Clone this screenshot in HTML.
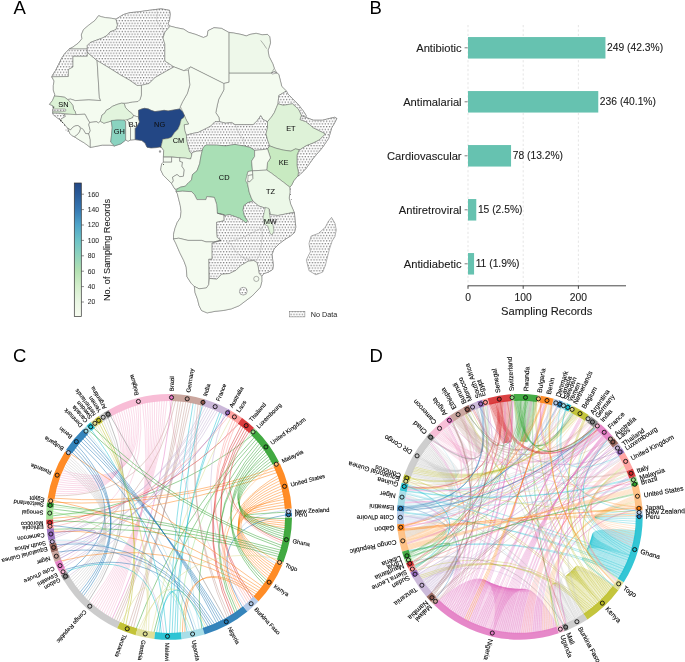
<!DOCTYPE html><html><head><meta charset="utf-8"><style>html,body{margin:0;padding:0;background:#fff}svg{display:block;will-change:transform}</style></head><body>
<svg width="685" height="662" viewBox="0 0 685 662" font-family="'Liberation Sans', sans-serif">
<defs>
<pattern id="dots" patternUnits="userSpaceOnUse" width="2.86" height="5.44"><rect width="2.86" height="5.44" fill="#fff"/><circle cx="0.7" cy="1.56" r="0.62" fill="#555"/><circle cx="2.13" cy="4.28" r="0.62" fill="#555"/></pattern>
<linearGradient id="cbar" x1="0" y1="1" x2="0" y2="0"><stop offset="0" stop-color="#f7fcf0"/><stop offset="0.114" stop-color="#e9f6e3"/><stop offset="0.229" stop-color="#d3eecb"/><stop offset="0.343" stop-color="#b3e1b2"/><stop offset="0.457" stop-color="#8fd3bd"/><stop offset="0.571" stop-color="#6cc3c7"/><stop offset="0.686" stop-color="#4ea4c9"/><stop offset="0.8" stop-color="#3679b3"/><stop offset="0.914" stop-color="#2a5b98"/><stop offset="1" stop-color="#234785"/></linearGradient>
</defs>
<rect width="685" height="662" fill="#fff"/>
<g stroke="#5a5a5a" stroke-width="0.45" stroke-linejoin="round">
<polygon points="98.6,15.7 101.6,16.8 105.4,17.6 111.5,18.3 116,19.1 123.5,14.5 129.6,12.7 138.7,11.8 149,10.3 161.1,8.8 169.5,10.3 170.2,14.1 169.5,20.1 168,23.9 170.2,26.1 176.3,27.7 183.8,29.2 188.3,32.2 195.9,34.5 203.4,37.5 207.2,36 208,30.7 214,27.7 221.6,28.4 228.4,32.2 233.7,33 241,34.4 246.3,35.9 250.1,34.4 256.1,33.3 262.2,34.8 267.5,34.4 269.7,36.6 270.5,42.7 269,47.9 268,50 269,56.3 272.8,63.8 274.3,68.3 277,73 278.8,74.4 280.3,80.4 281.8,86.5 286.4,91 287.9,94 292.4,98.5 298.4,104.6 303,110.6 306,115.2 306,117.5 313.5,120.2 322.6,120.2 331.7,117.9 335,117.2 336.8,118.5 334,124 331.7,127.8 328.7,138.3 322.6,147.4 313.5,158 306,168.5 300,174.6 297.9,176.1 297,176.9 293.9,180.6 291.6,185.2 289.8,187.2 290,192.1 289.2,198.1 290.7,204.2 293,209.5 294.4,212.9 295.1,220.4 295.8,227.2 294.4,232.7 290.3,236.1 284.9,239.5 279.5,243.5 274,249 272,254.4 272.7,259.9 273.3,265.3 272.7,269.4 268.6,272.1 263.8,273.5 261.8,276.2 261.8,281.6 260.4,287.1 256.9,291 252.1,296 245.7,300.8 239.2,305.7 231.2,308.9 223.2,310.5 215.1,311.3 207.1,312.9 201.5,310.5 199.1,305.7 197.5,299.2 195.1,292.8 194.3,286.4 191.1,283.2 187,276.8 186.2,267.1 183.8,260.7 179.8,252.7 175.8,243.4 173.5,238.9 173.5,234.4 175,228.3 177.3,222.3 180.3,217.8 181.1,211.7 180.3,205.7 178.8,199.6 177.3,193.6 176.1,191.7 175.7,189 174.8,189 171.6,183.5 167.1,179 163.4,175.4 160.7,169.9 161.6,164 163.4,162.2 163.4,157.2 163.7,150.4 161,146.8 156.2,147.6 151,147.9 147,147.2 145.1,143.1 141.8,140.5 135.2,139.6 130.5,140 128.1,141.2 125.7,140 121,143.8 114.5,145.9 110,145.1 102.4,145.1 94.8,146.6 90.3,147.4 84.3,142.9 79,139.8 74.5,136.8 72.2,135.8 69.9,133.5 67.7,128.2 63.9,123.7 60.1,119.9 57.5,118 53.3,113.9 52.6,113.1 53.3,108.2 52.6,105.6 49.5,104.4 52.6,100.3 54.4,96.1 54.8,94.6 53.3,90.1 53.3,85.5 54.1,81 51.8,77.2 52.6,75 55.6,70.4 58.6,64.4 61.6,58.3 64.6,53.8 69.2,49 73,47 78.2,43.2 82,38.7 81.3,34.9 83.5,29.6 88.8,25.1 94.8,20.6" fill="#f4fbf0"/>
<polygon points="98.6,15.7 101.6,16.8 105.4,17.6 111.5,18.3 116,19.1 117.5,25.1 116,29.6 110,31.9 106.9,35.7 102.4,38 96.4,40.2 90.3,42.5 87.3,45.5 87.3,49 69.2,49 73,47 78.2,43.2 82,38.7 81.3,34.9 83.5,29.6 88.8,25.1 94.8,20.6" fill="#f4fbf0"/>
<polygon points="69.2,49 87.3,49 87.3,56.3 73,56.3 73,67 68.4,69.5 68.4,76.5 51.8,76.8 52.6,75 55.6,70.4 58.6,64.4 61.6,58.3 64.6,53.8" fill="url(#dots)"/>
<polygon points="51.8,76.8 68.4,76.5 68.4,69.5 73,67 73,56.3 87.3,56.3 87.3,52.3 97.1,60.6 99.4,97.6 100.7,100.6 88.8,99.9 75.2,100.6 70.7,99.1 67.7,99.5 64.6,97.3 60.1,96.5 54.4,96.1 54.8,94.6 53.3,90.1 53.3,85.5 54.1,81" fill="#f4fbf0"/>
<polygon points="116,19.1 123.5,14.5 129.6,12.7 138.7,11.8 149,10.3 161.1,8.8 169.5,10.3 170.2,14.1 169.5,20.1 168,23.9 170.2,26.1 165,32 163,38 164.9,44.3 164.9,60.9 174,66.9 165.7,71.5 155.1,77.5 149.1,83.5 141.4,85.3 137.1,85.5 129.6,80.2 120.5,75 108.4,67.4 97.1,60.6 87.3,52.3 87.3,45.5 90.3,42.5 96.4,40.2 102.4,38 106.9,35.7 110,31.9 116,29.6 117.5,25.1" fill="url(#dots)"/>
<polygon points="170.2,26.1 176.3,27.7 183.8,29.2 188.3,32.2 195.9,34.5 203.4,37.5 207.2,36 208,30.7 214,27.7 221.6,28.4 228.4,32.2 229.1,32.5 229.1,73.2 229.1,82.2 223.8,83.5 190.6,66.9 183.8,70.7 174,66.9 164.9,60.9 164.9,44.3 163,38 165,32" fill="#f4fbf0"/>
<polygon points="229.1,32.5 233.7,33 241,34.4 246.3,35.9 250.1,34.4 256.1,33.3 262.2,34.8 267.5,34.4 269.7,36.6 270.5,42.7 269,47.9 268,50 269,56.3 272.8,63.8 274.3,68.3 271.3,73.2 229.1,73.2" fill="#eef8ea"/>
<polygon points="229.1,73.2 271.3,73.2 274.3,71.5 277,73 278.8,74.4 280.3,80.4 281.8,86.5 286.4,91 278.8,95.5 278,103.8 276.5,107.4 274.3,112.7 271.3,117.2 267.5,121.7 263,119.5 260.7,115.7 257.7,120.2 253.1,124.7 235,124.7 231.7,122.5 225.6,123.2 219.6,121.7 218.8,117.2 215.8,112.7 217.3,105.1 218.8,99.1 223.8,90 223.8,83.5 229.1,82.2" fill="#f4fbf0"/>
<polygon points="271.3,73.2 274.3,71.5 277,73 272.5,74" fill="url(#dots)"/>
<polygon points="190.6,66.9 223.8,83.5 223.8,90 218.8,99.1 217.3,105.1 215.8,112.7 218.8,117.2 219.6,121.7 215,121.7 210.5,126.3 204.5,129.3 198.4,132.3 190.9,133.8 186.4,135.3 184.8,130.8 184.1,124.7 188.6,124 186.4,120.2 184.8,117.2 183.3,112.7 180.3,106.6 182.5,101.9 187.3,93.5 189.8,85 189.1,77.5 188.3,70" fill="#f4fbf0"/>
<polygon points="174,66.9 183.8,70.7 188.3,70 189.1,77.5 189.8,85 187.3,93.5 182.5,101.9 180.3,106.6 179.9,108.9 176,109.6 172,110.3 168.1,110.9 164.1,110.3 160.2,110.9 154.9,111.6 151,110.3 148.4,108.9 144.4,108.3 141.8,108.9 138.5,110.3 138.6,116.8 136.5,116.5 133.5,115.5 131.8,113.3 128.3,110.6 125.2,107.1 124.3,103.6 124.8,103.2 128.3,102.8 132.7,101.9 137.9,101.5 140.1,99.3 141.4,94.9 141.4,85.3 149.1,83.5 155.1,77.5 165.7,71.5" fill="#f4fbf0"/>
<polygon points="97.1,60.6 108.4,67.4 120.5,75 129.6,80.2 137.1,85.5 141.4,85.3 141.4,94.9 140.1,99.3 137.9,101.5 132.7,101.9 128.3,102.8 124.8,103.2 121.3,103.2 116.9,104.5 112.5,106.3 109,108.9 106.4,110.2 104.6,113.3 102,115 101.1,118.5 100.3,121.2 98.5,122.9 96.4,121.7 89.6,122.5 87.3,118.7 85,114.2 76,114.6 75.2,111.6 73.7,109.4 72.9,105.6 71.4,103.3 67.7,99.5 70.7,99.1 75.2,100.6 88.8,99.9 100.7,100.6 99.4,97.6" fill="#f4fbf0"/>
<polygon points="54.4,96.1 60.1,96.5 64.6,97.3 67.7,99.5 71.4,103.3 72.9,105.6 73.7,109.4 75.2,111.6 76,114.6 69.9,114.3 60.1,113.1 52.6,113.1 53.3,108.2 52.6,105.6 49.5,104.4 52.6,100.3" fill="#dcf2d6"/>
<polygon points="52.8,109 65.4,109 66,110 65.4,111.3 52.8,111.2" fill="url(#dots)"/>
<polygon points="52.6,113.1 60.1,113.4 64.5,114.2 65.4,116.5 62.5,118.2 60.1,119.9 57.5,118 53.3,115" fill="url(#dots)"/>
<polygon points="64.5,114.2 69.9,114.3 76,114.6 85,114.2 87.3,118.7 89.6,122.5 88.8,124.7 90.3,130.8 88.8,133.8 85.5,133.5 83.5,130 81.5,128 79.5,126.5 77.5,125.5 75,126 72.5,127.5 70.5,130 67.7,128.2 63.9,123.7 60.1,119.9 62.5,118.2 65.4,116.5" fill="#f4fbf0"/>
<polygon points="67.7,128.2 70.5,130 72.5,127.5 75,126 77.5,125.5 79.5,126.5 80.5,129 79.5,132 77.5,134.5 74.5,136.8 72.2,135.8 69.9,133.5" fill="#f4fbf0"/>
<polygon points="79.5,132 80.5,129 81.5,128 83.5,130 85.5,133.5 88.8,133.8 90.3,139.8 90.3,147.4 84.3,142.9 79,139.8 74.5,136.8 77.5,134.5" fill="#f4fbf0"/>
<polygon points="89.6,122.5 96.4,121.7 98.5,122.9 100.3,121.2 103.9,123.2 111.5,121 112.2,127.8 111.5,135.3 110.7,142.1 114.5,145.9 110,145.1 102.4,145.1 94.8,146.6 90.3,147.4 90.3,139.8 88.8,133.8 90.3,130.8 88.8,124.7" fill="#f4fbf0"/>
<polygon points="121.3,103.2 124.3,103.6 125.2,107.1 128.3,110.6 131.8,113.3 133.5,115.5 132.7,117.7 128.3,119.4 125.6,121.2 123.5,120.5 120.5,120.2 116,120.2 111.5,121 103.9,123.2 100.3,121.2 101.1,118.5 102,115 104.6,113.3 106.4,110.2 109,108.9 112.5,106.3 116.9,104.5" fill="#e2f4dd"/>
<polygon points="111.2,120.5 118,120 123.8,120.1 125.7,121.5 125.7,132 125.7,140 121,143.8 114.5,145.9 110.7,142.1 111.5,135.3 112.2,127.8" fill="#8ad3c0"/>
<polygon points="123.8,120.1 127,119.8 128.5,121.5 129.5,126 130.5,127.2 130.5,140 128.1,141.2 125.7,140 125.7,132 125.7,121.5" fill="#f4fbf0"/>
<polygon points="127,119.8 128.3,119.4 132.7,117.7 133.5,115.5 136.5,116.5 138.6,116.8 138.5,118 139.5,122 137,126.5 135.2,128.5 135.2,139.6 130.5,140 130.5,127.2 129.5,126 128.5,121.5" fill="#f4fbf0"/>
<polygon points="138.5,110.3 141.8,108.9 144.4,108.3 148.4,108.9 151,110.3 154.9,111.6 160.2,110.9 164.1,110.3 168.1,110.9 172,110.3 176,109.6 179.9,108.9 182.5,111.6 184.5,115.5 183.8,117.5 181.2,119.5 179.9,124.7 177.9,129.3 174.6,132.6 171.4,137.2 168.1,138.5 162.8,139.2 161.8,143.5 161,146.8 156.2,147.6 151,147.9 147,147.2 145.1,143.1 141.8,140.5 135.2,139.6 135.2,128.5 137,126.5 139.5,122 138.5,118 138.6,116.8" fill="#234785"/>
<polygon points="184.5,115.5 186.4,120.2 188.6,124 184.1,124.7 184.8,130.8 186.4,135.3 187,141 189.7,151.8 191.5,153.6 191.5,156.3 190.6,159 185.2,158.1 178.9,157.7 171.6,156.8 163.4,156.8 163.7,150.4 161,146.8 161.8,143.5 162.8,139.2 168.1,138.5 171.4,137.2 174.6,132.6 177.9,129.3 179.9,124.7 181.2,119.5 183.8,117.5" fill="#d9f0d3"/>
<polygon points="186.4,135.3 190.9,133.8 198.4,132.3 204.5,129.3 210.5,126.3 215,121.7 219.6,121.7 225.6,123.2 231.7,122.5 235,124.7 253.1,124.7 257.7,120.2 260.7,115.7 263,119.5 267.5,121.7 267.5,127.8 266,133.8 267.5,139.8 269.7,145.9 267.5,148.9 262.2,149.7 254.6,150.4 250.1,147.4 244.1,145.9 238,145.1 235,144.4 225.6,145.9 216.6,145.1 206,145 203.3,147.3 202.4,150 200.6,150.9 196.1,151.3 192,152.7 191.5,153.6 189.7,151.8 187,141" fill="url(#dots)"/>
<polygon points="163.4,157.2 171.6,157.2 171.6,162.2 163.4,162.2" fill="#f4fbf0"/>
<polygon points="163.4,162.2 171.6,162.2 171.6,157.2 179.8,157.7 179.8,161.3 182.5,162.2 182,166.3 184.3,169.9 183.4,176.3 179.8,176.7 177,174.5 172.5,177.2 173.4,180.8 171.6,183.5 167.1,179 163.4,175.4 160.7,169.9 161.6,164" fill="#f4fbf0"/>
<polygon points="179.8,157.7 185.2,158.1 190.6,159 191.5,156.3 192,152.7 196.1,151.3 200.6,150.9 202.4,150 201.5,153.6 200.6,158.1 199.7,163.6 197,170.8 192.5,174.5 191.5,179.9 187.9,183.5 185.2,186.2 180.7,187.1 177,189 174.8,189 171.6,183.5 173.4,180.8 172.5,177.2 177,174.5 179.8,176.7 183.4,176.3 184.3,169.9 182,166.3 182.5,162.2 179.8,161.3" fill="#f4fbf0"/>
<polygon points="202.4,150 203.3,147.3 206,145 216.6,145.1 225.6,145.9 235,144.4 238,145.1 244.1,145.9 250.1,147.4 254.6,150.4 254.6,156.5 251.6,161 252.5,170.8 248,171.5 247.1,174.6 245.6,180.6 247.7,184.5 249.2,192.1 251.4,198.1 253,201.1 247.7,202.7 243.9,205.7 243.1,210.2 244.6,216.3 247.7,220.8 246.1,223 240.1,218.5 234.1,216.3 229.5,214.7 225,215.5 217.3,213.2 216.6,204.2 214.3,197.4 206.8,196.6 206,199.6 196.9,199.6 194.3,194.4 191.5,191.7 182.5,191.2 176.1,191.7 177,189 180.7,187.1 185.2,186.2 187.9,183.5 191.5,179.9 192.5,174.5 197,170.8 199.7,163.6 200.6,158.1 201.5,153.6" fill="#a9dfb5"/>
<polygon points="286.4,91 287.9,94 292.4,98.5 298.4,104.6 303,110.6 306,115.2 306,117.5 301.5,115.7 298.4,109.1 292.4,103.8 283.3,105.3 278,103.8 278.8,95.5" fill="url(#dots)"/>
<polygon points="278,103.8 283.3,105.3 292.4,103.8 298.4,109.1 301.5,115.7 300,119.5 306,121.7 313.5,127.8 322.6,132.3 325.6,133.8 319.6,139.8 313.5,142.9 306,145.9 300,149.7 299.2,149.7 295.4,148.9 290.9,151.2 283.3,150.1 275.8,148.2 269.7,145.9 267.5,139.8 266,133.8 267.5,127.8 267.5,121.7 271.3,117.2 274.3,112.7 276.5,107.4" fill="#def2d8"/>
<polygon points="301.5,115.7 306,117.5 313.5,120.2 322.6,120.2 331.7,117.9 335,117.2 336.8,118.5 334,124 331.7,127.8 328.7,138.3 322.6,147.4 313.5,158 306,168.5 300,174.6 297.9,176.1 298.4,172.3 297,165.5 297,155 299.2,149.7 300,149.7 306,145.9 313.5,142.9 319.6,139.8 325.6,133.8 322.6,132.3 313.5,127.8 306,121.7 300,119.5" fill="url(#dots)"/>
<polygon points="267.5,148.9 269.7,145.9 275.8,148.2 283.3,150.1 290.9,151.2 295.4,148.9 299.2,149.7 297,155 297,165.5 298.4,172.3 297.9,176.1 297,176.9 293.9,180.6 291.6,185.2 289.8,187.2 283.3,182.1 277.3,177.6 271.3,173.1 266.7,170.1 267.5,162.5 270.5,158 269,153.4" fill="#c8eac1"/>
<polygon points="254.6,150.4 262.2,149.7 267.5,148.9 269,153.4 270.5,158 267.5,162.5 266.7,170.1 252.5,170.8 251.6,161 254.6,156.5" fill="#f4fbf0"/>
<polygon points="248,171.5 252.5,170.8 252.8,174.8 248.2,175.5 247.1,174.6" fill="#f4fbf0"/>
<polygon points="248.2,175.5 252.8,174.8 253,178.5 249.5,182 247.7,181" fill="#f4fbf0"/>
<polygon points="252.5,170.8 266.7,170.1 271.3,173.1 277.3,177.6 283.3,182.1 289.8,187.2 290,192.1 289.2,198.1 290.7,204.2 293,209.5 294.4,212.9 293,212.5 285.4,214 277.9,215.5 270.3,214.7 269.3,209.5 265.2,208.2 258.2,205.7 253,201.1 251.4,198.1 249.2,192.1 247.7,184.5 247.7,181 249.5,182 253,178.5 252.8,174.8" fill="#ecf8e8"/>
<polygon points="176.1,191.7 182.5,191.2 191.5,191.7 194.3,194.4 196.9,199.6 206,199.6 206.8,196.6 214.3,197.4 216.6,204.2 217.3,213.2 224.1,214.7 224.1,220.8 216.6,222.3 216.6,229.8 217.3,237.4 221.1,240.4 213.5,241.9 206,241.9 201.5,240.4 187.9,240.4 178.8,238.2 173.5,238.9 173.5,234.4 175,228.3 177.3,222.3 180.3,217.8 181.1,211.7 180.3,205.7 178.8,199.6 177.3,193.6" fill="#f4fbf0"/>
<polygon points="217.3,213.2 225,215.5 229.5,214.7 234.1,216.3 240.1,218.5 246.1,223 247.7,220.8 244.6,216.3 243.1,210.2 243.9,205.7 247.7,202.7 253,201.1 258.2,205.7 265.2,208.2 269.3,209.5 270.3,214.7 277.9,215.5 285.4,214 293,212.5 294.4,212.9 295.1,220.4 295.8,227.2 294.4,232.7 290.3,236.1 284.9,239.5 279.5,243.5 274,249 272,254.4 272.7,259.9 273.3,265.3 272.7,269.4 268.6,272.1 263.8,273.5 261.8,276.2 259,273.5 258.4,268 257,262.6 253.6,260.5 248.2,261.2 240.8,265.5 236,270.3 229.6,273.5 221.6,274.3 216.8,279.2 209.5,278.4 208.7,259.1 211.9,259.1 211.9,243 221.1,240.4 217.3,237.4 216.6,229.8 216.6,222.3 224.1,220.8 224.1,214.7" fill="url(#dots)"/>
<polygon points="265.4,207.3 269,208.5 269.7,215.7 270.9,221.1 273.3,226 273.9,231.4 272.1,235 270.3,233.8 269,230.2 267.8,226 264.2,224.2 263,218.1 264.2,212.1" fill="#e2f4dd"/>
<polygon points="173.5,238.9 178.8,238.2 187.9,240.4 201.5,240.4 206,241.9 213.5,241.9 221.1,240.4 211.9,243 211.9,259.1 208.7,259.1 208.7,284.8 206.3,288 199.1,288.8 194.3,286.4 191.1,283.2 187,276.8 186.2,267.1 183.8,260.7 179.8,252.7 175.8,243.4" fill="#f4fbf0"/>
<polygon points="194.3,286.4 199.1,288.8 206.3,288 208.7,284.8 209.5,278.4 216.8,279.2 221.6,274.3 229.6,273.5 236,270.3 240.8,265.5 248.2,261.2 253.6,260.5 257,262.6 258.4,268 259,273.5 261.8,276.2 261.8,281.6 260.4,287.1 256.9,291 252.1,296 245.7,300.8 239.2,305.7 231.2,308.9 223.2,310.5 215.1,311.3 207.1,312.9 201.5,310.5 199.1,305.7 197.5,299.2 195.1,292.8" fill="#f4fbf0"/>
<polygon points="331.5,217.4 334.9,223.1 336.3,229.9 334.9,236.7 332.2,240.8 329.5,249 327.4,257.1 325.4,265.3 322.7,272.1 315.9,274.8 309,270.7 306.3,259.9 310.4,251.7 309,243.5 311.1,236.1 318.6,233.3 325.4,227.2 328.1,221.8" fill="url(#dots)"/>
<circle cx="243.3" cy="291.2" r="3.9" fill="url(#dots)"/>
<circle cx="256.3" cy="278.9" r="2.6" fill="#f4fbf0"/>
</g>
<polyline points="260.7,40.4 263.5,44 266.7,48.7" fill="none" stroke="#5a5a5a" stroke-width="0.45"/>
<g fill="none" stroke="#9a9a9a" stroke-width="0.35">
<polyline points="228.7,241.5 235,240 242.4,237.6 252.2,232.7 262.1,227.8 264.5,224"/>
<polyline points="226,242 230.6,243.5 235.5,251.3 242.4,257.2 247,260.5"/>
<polyline points="262.1,227.8 262.1,237.6 261.1,247.4 259.1,256.3 256.2,260.2"/>
<polyline points="242.4,257.2 249,259 256.2,260.2"/>
<polyline points="156.6,9.5 157.5,14 156.5,19 158,23 162,27 163.5,32 163,38"/>
<polyline points="235,124.7 237,129 240,135 244,140 244.1,145.9"/>
<polyline points="301.5,115.7 303.5,118.5 306,117.5"/>
</g>
<g fill="#222">
<circle cx="53.7" cy="107.1" r="0.7"/>
<circle cx="60.9" cy="120.7" r="0.7"/>
<circle cx="62.5" cy="122.5" r="0.5"/>
<circle cx="64.5" cy="125" r="0.5"/>
<circle cx="68" cy="131" r="0.5"/>
<circle cx="66" cy="130" r="0.4"/>
<circle cx="160.8" cy="147" r="0.5"/>
<circle cx="163.5" cy="164.5" r="0.5"/>
<circle cx="290.3" cy="189" r="0.45"/>
<circle cx="290.6" cy="194.5" r="0.45"/>
<circle cx="291.2" cy="199.5" r="0.4"/>
</g>
<ellipse cx="160" cy="151.5" rx="1.1" ry="1.2" fill="#999"/>
<g font-size="7.4" fill="#111" stroke="#111" stroke-width="0.06" text-anchor="middle">
<text x="63.5" y="106.8">SN</text>
<text x="119.4" y="134.4">GH</text>
<text x="133.1" y="126.6">BJ</text>
<text x="159.6" y="127.3">NG</text>
<text x="178.5" y="142.5">CM</text>
<text x="224.2" y="179.8">CD</text>
<text x="290.9" y="131.3">ET</text>
<text x="283.6" y="165.3">KE</text>
<text x="270.6" y="194.3">TZ</text>
<text x="270.2" y="223.8">MW</text>
</g>
<rect x="74.3" y="183" width="7" height="133.6" fill="url(#cbar)" stroke="#333" stroke-width="0.7"/>
<g stroke="#444" stroke-width="0.6">
<line x1="81.3" y1="302" x2="84" y2="302"/>
<line x1="81.3" y1="286.6" x2="84" y2="286.6"/>
<line x1="81.3" y1="271.2" x2="84" y2="271.2"/>
<line x1="81.3" y1="255.8" x2="84" y2="255.8"/>
<line x1="81.3" y1="240.4" x2="84" y2="240.4"/>
<line x1="81.3" y1="225" x2="84" y2="225"/>
<line x1="81.3" y1="209.6" x2="84" y2="209.6"/>
<line x1="81.3" y1="194.2" x2="84" y2="194.2"/>
</g>
<g font-size="6.7" fill="#333" stroke="#333" stroke-width="0.08">
<text x="87.8" y="304.4">20</text>
<text x="87.8" y="289">40</text>
<text x="87.8" y="273.6">60</text>
<text x="87.8" y="258.2">80</text>
<text x="87.8" y="242.8">100</text>
<text x="87.8" y="227.4">120</text>
<text x="87.8" y="212">140</text>
<text x="87.8" y="196.6">160</text>
</g>
<text transform="translate(110.4,250) rotate(-90)" font-size="9.2" fill="#222" stroke="#222" stroke-width="0.08" text-anchor="middle">No. of Sampling Records</text>
<rect x="289.5" y="311.3" width="15.4" height="5.6" fill="url(#dots)" stroke="#777" stroke-width="0.5"/>
<text x="310.8" y="316.6" font-size="7.2" fill="#222">No Data</text>
<g font-size="18.5" fill="#000">
<text x="13.4" y="13.7">A</text><text x="369.6" y="13.7">B</text><text x="12.9" y="361.6">C</text><text x="369.4" y="361.6">D</text>
</g>
<g stroke="#d4d4d4" stroke-width="0.6" stroke-dasharray="2.2,2.2">
<line x1="468" y1="25" x2="468" y2="285.5"/>
<line x1="523.2" y1="25" x2="523.2" y2="285.5"/>
<line x1="578.4" y1="25" x2="578.4" y2="285.5"/>
</g>
<rect x="468.0" y="37.05" width="137.45" height="21.5" fill="#66c2b0"/>
<text x="607.05" y="51.4" font-size="10.3" fill="#1a1a1a" stroke="#1a1a1a" stroke-width="0.1">249 (42.3%)</text>
<text x="461.6" y="51.8" font-size="11.2" fill="#1a1a1a" stroke="#1a1a1a" stroke-width="0.1" text-anchor="end">Antibiotic</text>
<line x1="464.6" y1="47.8" x2="467.6" y2="47.8" stroke="#444" stroke-width="0.7"/>
<rect x="468.0" y="91.05" width="130.27" height="21.5" fill="#66c2b0"/>
<text x="599.87" y="105.4" font-size="10.3" fill="#1a1a1a" stroke="#1a1a1a" stroke-width="0.1">236 (40.1%)</text>
<text x="461.6" y="105.8" font-size="11.2" fill="#1a1a1a" stroke="#1a1a1a" stroke-width="0.1" text-anchor="end">Antimalarial</text>
<line x1="464.6" y1="101.8" x2="467.6" y2="101.8" stroke="#444" stroke-width="0.7"/>
<rect x="468.0" y="145.05" width="43.06" height="21.5" fill="#66c2b0"/>
<text x="512.66" y="159.4" font-size="10.3" fill="#1a1a1a" stroke="#1a1a1a" stroke-width="0.1">78 (13.2%)</text>
<text x="461.6" y="159.8" font-size="11.2" fill="#1a1a1a" stroke="#1a1a1a" stroke-width="0.1" text-anchor="end">Cardiovascular</text>
<line x1="464.6" y1="155.8" x2="467.6" y2="155.8" stroke="#444" stroke-width="0.7"/>
<rect x="468.0" y="199.05" width="8.28" height="21.5" fill="#66c2b0"/>
<text x="477.88" y="213.4" font-size="10.3" fill="#1a1a1a" stroke="#1a1a1a" stroke-width="0.1">15 (2.5%)</text>
<text x="461.6" y="213.8" font-size="11.2" fill="#1a1a1a" stroke="#1a1a1a" stroke-width="0.1" text-anchor="end">Antiretroviral</text>
<line x1="464.6" y1="209.8" x2="467.6" y2="209.8" stroke="#444" stroke-width="0.7"/>
<rect x="468.0" y="253.05" width="6.07" height="21.5" fill="#66c2b0"/>
<text x="475.67" y="267.4" font-size="10.3" fill="#1a1a1a" stroke="#1a1a1a" stroke-width="0.1">11 (1.9%)</text>
<text x="461.6" y="267.8" font-size="11.2" fill="#1a1a1a" stroke="#1a1a1a" stroke-width="0.1" text-anchor="end">Antidiabetic</text>
<line x1="464.6" y1="263.8" x2="467.6" y2="263.8" stroke="#444" stroke-width="0.7"/>
<line x1="467.7" y1="285.8" x2="626" y2="285.8" stroke="#333" stroke-width="0.9"/>
<line x1="468" y1="285.8" x2="468" y2="288.8" stroke="#333" stroke-width="0.9"/>
<text x="468" y="301" font-size="10.3" fill="#1a1a1a" stroke="#1a1a1a" stroke-width="0.1" text-anchor="middle">0</text>
<line x1="523.2" y1="285.8" x2="523.2" y2="288.8" stroke="#333" stroke-width="0.9"/>
<text x="523.2" y="301" font-size="10.3" fill="#1a1a1a" stroke="#1a1a1a" stroke-width="0.1" text-anchor="middle">100</text>
<line x1="578.4" y1="285.8" x2="578.4" y2="288.8" stroke="#333" stroke-width="0.9"/>
<text x="578.4" y="301" font-size="10.3" fill="#1a1a1a" stroke="#1a1a1a" stroke-width="0.1" text-anchor="middle">200</text>
<text x="546.7" y="315.2" font-size="11.2" fill="#1a1a1a" stroke="#1a1a1a" stroke-width="0.1" text-anchor="middle">Sampling Records</text>
<g fill="none" stroke-width="0.6" stroke-opacity="0.8">
<path d="M112.33,414.03Q145.03,499.2 53.98,493.37" stroke="#f7b6d2"/>
<path d="M114.51,412.85Q145.41,498.71 54.49,491.01" stroke="#f7b6d2"/>
<path d="M116.73,411.72Q145.8,498.22 55.05,488.65" stroke="#f7b6d2"/>
<path d="M118.96,410.63Q146.2,497.74 55.65,486.31" stroke="#f7b6d2"/>
<path d="M121.22,409.6Q146.61,497.27 56.31,483.98" stroke="#f7b6d2"/>
<path d="M123.5,408.61Q147.02,496.81 57.01,481.66" stroke="#f7b6d2"/>
<path d="M125.8,407.67Q147.45,496.35 57.76,479.36" stroke="#f7b6d2"/>
<path d="M128.12,406.78Q147.89,495.91 58.55,477.08" stroke="#f7b6d2"/>
<path d="M130.46,405.93Q148.33,495.47 59.4,474.81" stroke="#f7b6d2"/>
<path d="M132.82,405.14Q148.79,495.05 60.29,472.56" stroke="#f7b6d2"/>
<path d="M135.19,404.4Q149.25,494.63 61.22,470.33" stroke="#f7b6d2"/>
<path d="M142.39,402.48Q157.03,515.07 109.61,618.23" stroke="#f7b6d2"/>
<path d="M144.82,401.94Q157.08,514.81 107.5,616.96" stroke="#f7b6d2"/>
<path d="M147.26,401.45Q157.13,514.56 105.41,615.64" stroke="#f7b6d2"/>
<path d="M149.7,401.01Q157.18,514.31 103.35,614.28" stroke="#f7b6d2"/>
<path d="M152.16,400.63Q157.24,514.06 101.32,612.88" stroke="#f7b6d2"/>
<path d="M154.62,400.3Q157.3,513.81 99.32,611.43" stroke="#f7b6d2"/>
<path d="M157.09,400.02Q157.37,513.56 97.35,609.95" stroke="#f7b6d2"/>
<path d="M159.57,399.79Q157.45,513.32 95.41,608.42" stroke="#f7b6d2"/>
<path d="M162.05,399.61Q157.53,513.07 93.5,606.85" stroke="#f7b6d2"/>
<path d="M164.53,399.49Q157.61,512.83 91.63,605.24" stroke="#f7b6d2"/>
<path d="M167.01,399.42Q157.7,512.59 89.79,603.6" stroke="#f7b6d2"/>
<path d="M137.58,403.71Q148.43,503.56 52.97,534.77" stroke="#f7b6d2"/>
<path d="M169.5,399.4Q179.77,513.02 244.93,606.66" stroke="#f7b6d2"/>
<path d="M139.98,403.07Q149.91,507.47 61.18,563.38" stroke="#f7b6d2"/>
<path d="M285.26,499.22Q201.8,514.99 286.53,520.96" stroke="#ff7f0e"/>
<path d="M285.65,501.99Q201.84,515.7 286.43,523.26" stroke="#ff7f0e"/>
<path d="M285.97,504.77Q201.87,516.41 286.28,525.55" stroke="#ff7f0e"/>
<path d="M286.23,507.55Q201.88,517.12 286.09,527.84" stroke="#ff7f0e"/>
<path d="M279.82,477.56Q199.53,518.29 275.77,566.17" stroke="#ff7f0e"/>
<path d="M280.72,480.2Q199.51,518.97 274.72,568.38" stroke="#ff7f0e"/>
<path d="M281.56,482.87Q199.48,519.65 273.63,570.57" stroke="#ff7f0e"/>
<path d="M282.34,485.56Q199.43,520.33 272.48,572.74" stroke="#ff7f0e"/>
<path d="M283.06,488.26Q199.36,521.01 271.3,574.88" stroke="#ff7f0e"/>
<path d="M283.71,490.98Q199.28,521.68 270.07,577" stroke="#ff7f0e"/>
<path d="M284.29,493.71Q199.18,522.36 268.79,579.09" stroke="#ff7f0e"/>
<path d="M284.81,496.46Q200.52,520.28 277.81,561.49" stroke="#ff7f0e"/>
<path d="M275.58,467.21Q167.77,507.32 53.11,498.13" stroke="#ff7f0e"/>
<path d="M276.73,469.76Q167.85,508.25 52.52,502.22" stroke="#ff7f0e"/>
<path d="M277.82,472.33Q167.87,510.87 51.61,518.38" stroke="#ff7f0e"/>
<path d="M278.85,474.93Q194.57,524.01 241.26,609.63" stroke="#ff7f0e"/>
<path d="M268.11,453.63Q199.31,509.89 285.85,530.13" stroke="#2ca02c"/>
<path d="M269.53,455.9Q199.47,510.53 285.57,532.41" stroke="#2ca02c"/>
<path d="M270.89,458.21Q199.61,511.17 285.25,534.69" stroke="#2ca02c"/>
<path d="M272.2,460.54Q199.74,511.82 284.88,536.96" stroke="#2ca02c"/>
<path d="M273.46,462.91Q199.86,512.47 284.46,539.22" stroke="#2ca02c"/>
<path d="M263.55,447Q196.1,516.11 267.48,581.15" stroke="#2ca02c"/>
<path d="M265.12,449.18Q196.12,516.7 266.12,583.19" stroke="#2ca02c"/>
<path d="M266.64,451.38Q196.14,517.29 264.71,585.2" stroke="#2ca02c"/>
<path d="M260.26,442.77Q191.44,519.9 237.52,612.43" stroke="#2ca02c"/>
<path d="M261.93,444.87Q191.41,520.38 235.6,613.77" stroke="#2ca02c"/>
<path d="M256.79,438.69Q179.22,522.26 153.69,633.39" stroke="#2ca02c"/>
<path d="M254.98,436.71Q176.46,521.45 135.81,629.59" stroke="#2ca02c"/>
<path d="M258.55,440.71Q186.21,522.03 201.87,629.74" stroke="#2ca02c"/>
<path d="M253.13,434.77Q164.41,505.28 51.6,516" stroke="#2ca02c"/>
<path d="M185.94,400.61Q166.44,516.28 133.24,628.79" stroke="#c49c94"/>
<path d="M188.42,401Q166.43,516.22 130.68,627.94" stroke="#c49c94"/>
<path d="M190.89,401.44Q166.42,516.15 128.14,627.03" stroke="#c49c94"/>
<path d="M178.45,399.77Q163.3,515.34 118.33,622.86" stroke="#c49c94"/>
<path d="M180.95,400Q163.34,515.22 116.11,621.77" stroke="#c49c94"/>
<path d="M183.45,400.28Q163.38,515.1 113.92,620.64" stroke="#c49c94"/>
<path d="M198.25,403.07Q181.67,515.06 229.7,617.56" stroke="#c49c94"/>
<path d="M200.67,403.72Q181.72,515.31 227.69,618.75" stroke="#c49c94"/>
<path d="M193.35,401.93Q172.54,517.25 169.39,634.4" stroke="#17becf"/>
<path d="M195.81,402.48Q177.09,516.77 199.48,630.41" stroke="#9edae5"/>
<path d="M173.43,399.48Q153.53,497.5 53.52,495.75" stroke="#c49c94"/>
<path d="M175.94,399.6Q154.26,505.08 56.28,549.75" stroke="#c49c94"/>
<path d="M204.23,404.77Q157.85,504.21 53.59,538.41" stroke="#c5b0d5"/>
<path d="M206.55,405.53Q158.13,504.07 53.26,536.6" stroke="#c5b0d5"/>
<path d="M208.85,406.33Q159.19,506.99 58.53,556.65" stroke="#c5b0d5"/>
<path d="M211.14,407.18Q159.4,506.79 57.75,554.43" stroke="#c5b0d5"/>
<path d="M213.41,408.08Q160.48,508.8 63.22,567.85" stroke="#c5b0d5"/>
<path d="M215.66,409.02Q160.65,508.62 62.18,565.63" stroke="#c5b0d5"/>
<path d="M220.1,411.05Q177.38,518.49 177.26,634.12" stroke="#17becf"/>
<path d="M222.29,412.13Q177.32,518.66 174.64,634.27" stroke="#17becf"/>
<path d="M224.45,413.25Q187.72,514.73 246.77,605.07" stroke="#c5b0d5"/>
<path d="M217.89,410.01Q161.76,510.3 67.91,576.62" stroke="#c5b0d5"/>
<path d="M241.68,424.5Q188.3,517.71 233.66,615.07" stroke="#d62728"/>
<path d="M243.65,426.08Q188.3,518.11 231.7,616.34" stroke="#d62728"/>
<path d="M245.59,427.71Q191.66,515.82 253.78,598.36" stroke="#d62728"/>
<path d="M247.49,429.37Q191.69,516.29 252.08,600.09" stroke="#d62728"/>
<path d="M239.68,422.96Q162.55,504.62 51.76,523.1" stroke="#d62728"/>
<path d="M249.36,431.08Q196.42,508.33 284,541.47" stroke="#d62728"/>
<path d="M233.35,418.52Q189.47,515.01 250.34,601.79" stroke="#ff9896"/>
<path d="M235.5,419.96Q189.52,515.45 248.57,603.45" stroke="#ff9896"/>
<path d="M231.17,417.13Q175.27,519.19 151.11,633.01" stroke="#dbdb8d"/>
<path d="M228.97,415.79Q161.1,504.21 52.07,527.35" stroke="#ff9896"/>
<path d="M237.62,421.44Q194.71,507.29 283.5,543.72" stroke="#ff9896"/>
<path d="M286.58,514.81Q195.91,529.39 243.09,608.18" stroke="#1f77b4"/>
<path d="M286.4,510.01Q200.6,522.52 276.78,563.94" stroke="#aec7e8"/>
<path d="M286.5,512.14Q201.98,516.48 286.59,518.66" stroke="#2ca02c"/>
<path d="M274.53,465.02Q193.7,522.82 239.4,611.05" stroke="#ffbb78"/>
<path d="M251.24,432.88Q182.11,521.52 179.87,633.91" stroke="#98df8a"/>
<path d="M226.69,414.48Q161.8,508.44 59.35,558.86" stroke="#9467bd"/>
<path d="M202.47,404.24Q174.18,517.57 172.01,634.36" stroke="#17becf"/>
<path d="M171.46,399.42Q161.4,514.81 111.75,619.46" stroke="#e377c2"/>
<path d="M110.08,415.3Q168.76,517.09 225.65,619.9" stroke="#7f7f7f"/>
<path d="M107.79,416.66Q149.16,514.77 87.99,601.91" stroke="#7f7f7f"/>
<path d="M103.18,419.63Q148.27,514.94 86.22,600.19" stroke="#c7c7c7"/>
<path d="M105.49,418.11Q148.35,514.48 84.49,598.43" stroke="#c7c7c7"/>
<path d="M98.92,422.66Q153.19,518.99 125.63,626.06" stroke="#bcbd22"/>
<path d="M100.99,421.15Q153.13,518.63 123.14,625.04" stroke="#bcbd22"/>
<path d="M95,425.71Q155.85,520.33 148.54,632.59" stroke="#dbdb8d"/>
<path d="M96.92,424.18Q155.76,520.05 145.98,632.1" stroke="#dbdb8d"/>
<path d="M93.02,427.35Q174.39,508.43 282.95,545.95" stroke="#2ca02c"/>
<path d="M91.01,429.1Q157.84,521.06 166.76,634.38" stroke="#17becf"/>
<path d="M87.77,432.09Q161.63,521 197.07,631.02" stroke="#9edae5"/>
<path d="M89.27,430.69Q173.78,509.21 282.36,548.17" stroke="#2ca02c"/>
<path d="M70.17,453.51Q168.43,517.86 263.27,587.17" stroke="#ff7f0e"/>
<path d="M52.28,504.31Q168.51,519.82 281.73,550.38" stroke="#2ca02c"/>
<path d="M52.06,506.56Q136.27,514.99 51.65,513.62" stroke="#98df8a"/>
<path d="M62.21,468.12Q141.37,520.45 77.94,591.04" stroke="#c7c7c7"/>
<path d="M63.23,465.93Q141.3,519.87 76.41,589.11" stroke="#c7c7c7"/>
<path d="M64.3,463.76Q141.24,519.29 74.91,587.15" stroke="#c7c7c7"/>
<path d="M65.42,461.61Q141.19,518.71 73.46,585.15" stroke="#c7c7c7"/>
<path d="M66.58,459.49Q141.16,518.13 72.04,583.13" stroke="#c7c7c7"/>
<path d="M67.79,457.39Q141.14,517.55 70.67,581.08" stroke="#c7c7c7"/>
<path d="M69.03,455.31Q141.13,516.97 69.35,578.99" stroke="#c7c7c7"/>
<path d="M73.09,449.17Q143.58,518.58 82.79,596.63" stroke="#1f77b4"/>
<path d="M74.77,446.84Q143.58,518 81.14,594.8" stroke="#1f77b4"/>
<path d="M76.51,444.56Q143.6,517.42 79.52,592.94" stroke="#1f77b4"/>
<path d="M80.15,440.12Q164.28,520.73 223.59,621" stroke="#1f77b4"/>
<path d="M82.06,437.97Q164.25,520.57 221.51,622.06" stroke="#1f77b4"/>
<path d="M84.01,435.87Q164.23,520.42 219.41,623.09" stroke="#1f77b4"/>
<path d="M86.01,433.81Q164.21,520.27 217.28,624.07" stroke="#1f77b4"/>
<path d="M78.3,442.32Q159.97,522.51 194.65,631.59" stroke="#1f77b4"/>
<path d="M71.46,451.54Q141.05,515.74 66.38,573.95" stroke="#1f77b4"/>
<path d="M52.25,529.28Q168.21,524.24 279.57,556.93" stroke="#2ca02c"/>
<path d="M52.46,531.12Q165.53,529.27 260.26,591.04" stroke="#ff7f0e"/>
<path d="M60.23,561.11Q166.4,533.73 258.69,592.92" stroke="#ff7f0e"/>
<path d="M257.09,594.77Q183.63,544.1 184.88,633.34" stroke="#ff7f0e"/>
<path d="M255.45,596.59Q183.05,544.4 182.41,633.64" stroke="#ff7f0e"/>
<path d="M52.78,500.29Q165.79,524.69 261.78,589.12" stroke="#ff7f0e"/>
<path d="M51.87,508.87Q168.36,520.77 281.05,552.58" stroke="#2ca02c"/>
<path d="M51.74,511.24Q155.91,532.24 192.22,632.1" stroke="#98df8a"/>
<path d="M51.66,520.74Q168.23,522.74 280.33,554.76" stroke="#2ca02c"/>
<path d="M51.9,525.3Q159.14,533.21 215.14,625" stroke="#1f77b4"/>
<path d="M53.95,540.28Q155.87,536.37 189.78,632.57" stroke="#9edae5"/>
<path d="M54.35,542.18Q152.34,536.87 164.14,634.3" stroke="#c5b0d5"/>
<path d="M55.55,547.11Q136.91,523.38 52.7,532.95" stroke="#9467bd"/>
<path d="M54.88,544.46Q159.25,536.02 212.98,625.9" stroke="#1f77b4"/>
<path d="M57.02,552.18Q159.25,537.22 210.81,626.75" stroke="#1f77b4"/>
<path d="M64.22,569.88Q159.95,539.81 208.61,627.56" stroke="#1f77b4"/>
<path d="M65.16,571.7Q153.49,540.99 161.52,634.16" stroke="#17becf"/>
<path d="M120.67,623.95Q158.72,547.94 143.43,631.56" stroke="#dbdb8d"/>
<path d="M140.89,630.96Q170.37,548.47 206.4,628.32" stroke="#dbdb8d"/>
<path d="M138.36,630.31Q180.15,538.68 278.77,559.08" stroke="#dbdb8d"/>
<path d="M158.9,633.96Q170.22,549.54 187.33,632.98" stroke="#17becf"/>
<path d="M156.29,633.7Q172.22,548.95 204.18,629.04" stroke="#17becf"/>
</g>
<path d="M292,516.39A122.9,122.9 0 0 0 291.94,513.04L285.04,513.26A116.0,116.0 0 0 1 285.1,516.41Z" fill="#1f77b4" fill-opacity="0.9" stroke="none"/>
<path d="M291.94,513.04A122.9,122.9 0 0 0 291.72,508.58L284.83,509.05A116.0,116.0 0 0 1 285.04,513.26Z" fill="#aec7e8" fill-opacity="0.9" stroke="none"/>
<path d="M291.72,508.58A122.9,122.9 0 0 0 279.84,463.6L273.62,466.6A116.0,116.0 0 0 1 284.83,509.05Z" fill="#ff7f0e" fill-opacity="0.9" stroke="none"/>
<path d="M279.84,463.6A122.9,122.9 0 0 0 278.9,461.68L272.73,464.78A116.0,116.0 0 0 1 273.62,466.6Z" fill="#ffbb78" fill-opacity="0.9" stroke="none"/>
<path d="M278.9,461.68A122.9,122.9 0 0 0 256,430L251.12,434.88A116.0,116.0 0 0 1 272.73,464.78Z" fill="#2ca02c" fill-opacity="0.9" stroke="none"/>
<path d="M256,430A122.9,122.9 0 0 0 254.01,428.05L249.24,433.04A116.0,116.0 0 0 1 251.12,434.88Z" fill="#98df8a" fill-opacity="0.9" stroke="none"/>
<path d="M254.01,428.05A122.9,122.9 0 0 0 241.86,417.85L237.77,423.41A116.0,116.0 0 0 1 249.24,433.04Z" fill="#d62728" fill-opacity="0.9" stroke="none"/>
<path d="M241.86,417.85A122.9,122.9 0 0 0 230.55,410.47L227.1,416.44A116.0,116.0 0 0 1 237.77,423.41Z" fill="#ff9896" fill-opacity="0.9" stroke="none"/>
<path d="M230.55,410.47A122.9,122.9 0 0 0 228.12,409.1L224.81,415.15A116.0,116.0 0 0 1 227.1,416.44Z" fill="#9467bd" fill-opacity="0.9" stroke="none"/>
<path d="M228.12,409.1A122.9,122.9 0 0 0 204.62,399.25L202.63,405.85A116.0,116.0 0 0 1 224.81,415.15Z" fill="#c5b0d5" fill-opacity="0.9" stroke="none"/>
<path d="M204.62,399.25A122.9,122.9 0 0 0 203.39,398.88L201.46,405.51A116.0,116.0 0 0 1 202.63,405.85Z" fill="#8c564b" fill-opacity="0.9" stroke="none"/>
<path d="M203.39,398.88A122.9,122.9 0 0 0 172.32,394.04L172.14,400.94A116.0,116.0 0 0 1 201.46,405.51Z" fill="#c49c94" fill-opacity="0.9" stroke="none"/>
<path d="M172.32,394.04A122.9,122.9 0 0 0 170.82,394.01L170.72,400.91A116.0,116.0 0 0 1 172.14,400.94Z" fill="#e377c2" fill-opacity="0.9" stroke="none"/>
<path d="M170.82,394.01A122.9,122.9 0 0 0 108.58,409.93L111.98,415.94A116.0,116.0 0 0 1 170.72,400.91Z" fill="#f7b6d2" fill-opacity="0.9" stroke="none"/>
<path d="M108.58,409.93A122.9,122.9 0 0 0 103.79,412.79L107.46,418.63A116.0,116.0 0 0 1 111.98,415.94Z" fill="#7f7f7f" fill-opacity="0.9" stroke="none"/>
<path d="M103.79,412.79A122.9,122.9 0 0 0 98.96,415.98L102.9,421.65A116.0,116.0 0 0 1 107.46,418.63Z" fill="#c7c7c7" fill-opacity="0.9" stroke="none"/>
<path d="M98.96,415.98A122.9,122.9 0 0 0 94.62,419.14L98.81,424.63A116.0,116.0 0 0 1 102.9,421.65Z" fill="#bcbd22" fill-opacity="0.9" stroke="none"/>
<path d="M94.62,419.14A122.9,122.9 0 0 0 90.6,422.34L95,427.65A116.0,116.0 0 0 1 98.81,424.63Z" fill="#dbdb8d" fill-opacity="0.9" stroke="none"/>
<path d="M90.6,422.34A122.9,122.9 0 0 0 86.39,426L91.03,431.1A116.0,116.0 0 0 1 95,427.65Z" fill="#17becf" fill-opacity="0.9" stroke="none"/>
<path d="M86.39,426A122.9,122.9 0 0 0 83.26,428.94L88.08,433.88A116.0,116.0 0 0 1 91.03,431.1Z" fill="#9edae5" fill-opacity="0.9" stroke="none"/>
<path d="M83.26,428.94A122.9,122.9 0 0 0 66.14,449.78L71.92,453.55A116.0,116.0 0 0 1 88.08,433.88Z" fill="#1f77b4" fill-opacity="0.9" stroke="none"/>
<path d="M66.14,449.78A122.9,122.9 0 0 0 65.1,451.41L70.94,455.09A116.0,116.0 0 0 1 71.92,453.55Z" fill="#aec7e8" fill-opacity="0.9" stroke="none"/>
<path d="M65.1,451.41A122.9,122.9 0 0 0 47.58,498.52L54.4,499.55A116.0,116.0 0 0 1 70.94,455.09Z" fill="#ff7f0e" fill-opacity="0.9" stroke="none"/>
<path d="M47.58,498.52A122.9,122.9 0 0 0 47.04,502.56L53.89,503.37A116.0,116.0 0 0 1 54.4,499.55Z" fill="#ffbb78" fill-opacity="0.9" stroke="none"/>
<path d="M47.04,502.56A122.9,122.9 0 0 0 46.58,507.26L53.46,507.8A116.0,116.0 0 0 1 53.89,503.37Z" fill="#2ca02c" fill-opacity="0.9" stroke="none"/>
<path d="M46.58,507.26A122.9,122.9 0 0 0 46.23,519.69L53.13,519.53A116.0,116.0 0 0 1 53.46,507.8Z" fill="#98df8a" fill-opacity="0.9" stroke="none"/>
<path d="M46.23,519.69A122.9,122.9 0 0 0 46.44,524.62L53.33,524.18A116.0,116.0 0 0 1 53.13,519.53Z" fill="#d62728" fill-opacity="0.9" stroke="none"/>
<path d="M46.44,524.62A122.9,122.9 0 0 0 46.79,528.89L53.65,528.22A116.0,116.0 0 0 1 53.33,524.18Z" fill="#ff9896" fill-opacity="0.9" stroke="none"/>
<path d="M46.79,528.89A122.9,122.9 0 0 0 48.46,540.35L55.23,539.03A116.0,116.0 0 0 1 53.65,528.22Z" fill="#9467bd" fill-opacity="0.9" stroke="none"/>
<path d="M48.46,540.35A122.9,122.9 0 0 0 49.3,544.34L56.03,542.8A116.0,116.0 0 0 1 55.23,539.03Z" fill="#c5b0d5" fill-opacity="0.9" stroke="none"/>
<path d="M49.3,544.34A122.9,122.9 0 0 0 51.51,552.63L58.11,550.62A116.0,116.0 0 0 1 56.03,542.8Z" fill="#8c564b" fill-opacity="0.9" stroke="none"/>
<path d="M51.51,552.63A122.9,122.9 0 0 0 54.75,561.94L61.17,559.41A116.0,116.0 0 0 1 58.11,550.62Z" fill="#c49c94" fill-opacity="0.9" stroke="none"/>
<path d="M54.75,561.94A122.9,122.9 0 0 0 58.92,571.35L65.11,568.3A116.0,116.0 0 0 1 61.17,559.41Z" fill="#e377c2" fill-opacity="0.9" stroke="none"/>
<path d="M58.92,571.35A122.9,122.9 0 0 0 60.89,575.17L66.96,571.89A116.0,116.0 0 0 1 65.11,568.3Z" fill="#f7b6d2" fill-opacity="0.9" stroke="none"/>
<path d="M60.89,575.17A122.9,122.9 0 0 0 64.09,580.75L69.98,577.16A116.0,116.0 0 0 1 66.96,571.89Z" fill="#7f7f7f" fill-opacity="0.9" stroke="none"/>
<path d="M64.09,580.75A122.9,122.9 0 0 0 117.16,628.29L120.08,622.03A116.0,116.0 0 0 1 69.98,577.16Z" fill="#c7c7c7" fill-opacity="0.9" stroke="none"/>
<path d="M117.16,628.29A122.9,122.9 0 0 0 135.64,635.16L137.52,628.52A116.0,116.0 0 0 1 120.08,622.03Z" fill="#bcbd22" fill-opacity="0.9" stroke="none"/>
<path d="M135.64,635.16A122.9,122.9 0 0 0 154.34,638.91L155.16,632.06A116.0,116.0 0 0 1 137.52,628.52Z" fill="#dbdb8d" fill-opacity="0.9" stroke="none"/>
<path d="M154.34,638.91A122.9,122.9 0 0 0 181.73,639.15L181.02,632.29A116.0,116.0 0 0 1 155.16,632.06Z" fill="#17becf" fill-opacity="0.9" stroke="none"/>
<path d="M181.73,639.15A122.9,122.9 0 0 0 204.62,634.55L202.63,627.95A116.0,116.0 0 0 1 181.02,632.29Z" fill="#9edae5" fill-opacity="0.9" stroke="none"/>
<path d="M204.62,634.55A122.9,122.9 0 0 0 247.44,611.6L243.04,606.28A116.0,116.0 0 0 1 202.63,627.95Z" fill="#1f77b4" fill-opacity="0.9" stroke="none"/>
<path d="M247.44,611.6A122.9,122.9 0 0 0 258.54,601.19L253.52,596.45A116.0,116.0 0 0 1 243.04,606.28Z" fill="#aec7e8" fill-opacity="0.9" stroke="none"/>
<path d="M258.54,601.19A122.9,122.9 0 0 0 282.23,564.92L275.88,562.22A116.0,116.0 0 0 1 253.52,596.45Z" fill="#ff7f0e" fill-opacity="0.9" stroke="none"/>
<path d="M282.23,564.92A122.9,122.9 0 0 0 283.37,562.14L276.95,559.6A116.0,116.0 0 0 1 275.88,562.22Z" fill="#ffbb78" fill-opacity="0.9" stroke="none"/>
<path d="M283.37,562.14A122.9,122.9 0 0 0 292,517.54L285.1,517.51A116.0,116.0 0 0 1 276.95,559.6Z" fill="#2ca02c" fill-opacity="0.9" stroke="none"/>
<g stroke="#111" stroke-width="0.9">
<circle cx="288.53" cy="514.69" r="2.05" fill="#1f77b4"/>
<circle cx="288.43" cy="511.59" r="2.05" fill="#aec7e8"/>
<circle cx="284.58" cy="486.35" r="2.05" fill="#ff7f0e"/>
<circle cx="276.3" cy="464.2" r="2.05" fill="#ffbb78"/>
<circle cx="265.92" cy="446.94" r="2.05" fill="#2ca02c"/>
<circle cx="253.02" cy="431.89" r="2.05" fill="#98df8a"/>
<circle cx="246.15" cy="425.62" r="2.05" fill="#d62728"/>
<circle cx="234.4" cy="416.88" r="2.05" fill="#ff9896"/>
<circle cx="227.61" cy="412.76" r="2.05" fill="#9467bd"/>
<circle cx="215.16" cy="406.69" r="2.05" fill="#c5b0d5"/>
<circle cx="202.99" cy="402.36" r="2.05" fill="#8c564b"/>
<circle cx="187.21" cy="398.83" r="2.05" fill="#c49c94"/>
<circle cx="171.5" cy="397.47" r="2.05" fill="#e377c2"/>
<circle cx="138.41" cy="401.46" r="2.05" fill="#f7b6d2"/>
<circle cx="108.08" cy="414.21" r="2.05" fill="#7f7f7f"/>
<circle cx="103.19" cy="417.28" r="2.05" fill="#c7c7c7"/>
<circle cx="98.65" cy="420.43" r="2.05" fill="#bcbd22"/>
<circle cx="94.87" cy="423.31" r="2.05" fill="#dbdb8d"/>
<circle cx="90.72" cy="426.76" r="2.05" fill="#17becf"/>
<circle cx="85.99" cy="431.11" r="2.05" fill="#9edae5"/>
<circle cx="76.35" cy="441.63" r="2.05" fill="#1f77b4"/>
<circle cx="68.39" cy="452.67" r="2.05" fill="#aec7e8"/>
<circle cx="57.19" cy="475.15" r="2.05" fill="#ff7f0e"/>
<circle cx="50.72" cy="500.94" r="2.05" fill="#ffbb78"/>
<circle cx="50.2" cy="505.41" r="2.05" fill="#2ca02c"/>
<circle cx="49.71" cy="513.11" r="2.05" fill="#98df8a"/>
<circle cx="49.79" cy="522.69" r="2.05" fill="#d62728"/>
<circle cx="50.02" cy="526.27" r="2.05" fill="#ff9896"/>
<circle cx="50.89" cy="534.04" r="2.05" fill="#9467bd"/>
<circle cx="52.25" cy="541.67" r="2.05" fill="#c5b0d5"/>
<circle cx="53.63" cy="547.49" r="2.05" fill="#8c564b"/>
<circle cx="56.3" cy="556.2" r="2.05" fill="#c49c94"/>
<circle cx="60.04" cy="565.64" r="2.05" fill="#e377c2"/>
<circle cx="63.01" cy="571.8" r="2.05" fill="#f7b6d2"/>
<circle cx="65.48" cy="576.32" r="2.05" fill="#7f7f7f"/>
<circle cx="89.79" cy="606.22" r="2.05" fill="#c7c7c7"/>
<circle cx="127.23" cy="628.77" r="2.05" fill="#bcbd22"/>
<circle cx="145.18" cy="633.93" r="2.05" fill="#dbdb8d"/>
<circle cx="167.49" cy="636.34" r="2.05" fill="#17becf"/>
<circle cx="192.59" cy="634.02" r="2.05" fill="#9edae5"/>
<circle cx="226.28" cy="621.78" r="2.05" fill="#1f77b4"/>
<circle cx="251.13" cy="603.73" r="2.05" fill="#aec7e8"/>
<circle cx="269.13" cy="582.18" r="2.05" fill="#ff7f0e"/>
<circle cx="279.58" cy="562.32" r="2.05" fill="#ffbb78"/>
<circle cx="286.36" cy="539.65" r="2.05" fill="#2ca02c"/>
</g>
<g font-size="5.9" fill="#000" stroke="#000" stroke-width="0.1">
<text transform="translate(294.88,514.57) rotate(-1.06)" dy="0.35em">Peru</text>
<text transform="translate(294.78,511.3) rotate(-2.55)" dy="0.35em">New Zealand</text>
<text transform="translate(290.72,484.72) rotate(-14.82)" dy="0.35em">United States</text>
<text transform="translate(281.99,461.4) rotate(-26.18)" dy="0.35em">Malaysia</text>
<text transform="translate(271.07,443.22) rotate(-35.85)" dy="0.35em">United Kingdom</text>
<text transform="translate(257.48,427.37) rotate(-45.37)" dy="0.35em">Luxembourg</text>
<text transform="translate(250.25,420.77) rotate(-49.83)" dy="0.35em">Thailand</text>
<text transform="translate(237.87,411.56) rotate(-56.86)" dy="0.35em">Laos</text>
<text transform="translate(230.72,407.23) rotate(-60.67)" dy="0.35em">Australia</text>
<text transform="translate(217.61,400.83) rotate(-67.32)" dy="0.35em">France</text>
<text transform="translate(204.79,396.27) rotate(-73.52)" dy="0.35em">India</text>
<text transform="translate(188.17,392.55) rotate(-81.28)" dy="0.35em">Germany</text>
<text transform="translate(171.62,391.13) rotate(-88.85)" dy="0.35em">Brazil</text>
<text transform="translate(136.77,395.32) rotate(-104.89)" dy="0.35em">Belgium</text>
<text transform="translate(104.84,408.75) rotate(-120.72)" dy="0.35em">Argentina</text>
<text transform="translate(99.68,411.99) rotate(-123.49)" dy="0.35em">Yemen</text>
<text transform="translate(94.91,415.31) rotate(-126.14)" dy="0.35em">Netherlands</text>
<text transform="translate(90.93,418.34) rotate(-128.42)" dy="0.35em">Sweden</text>
<text transform="translate(86.55,421.97) rotate(-131.01)" dy="0.35em">Canada</text>
<text transform="translate(81.57,426.54) rotate(-134.09)" dy="0.35em">Denmark</text>
<text transform="translate(71.42,437.63) rotate(-140.94)" dy="0.35em">Benin</text>
<text transform="translate(63.04,449.25) rotate(-147.47)" dy="0.35em">Bulgaria</text>
<text transform="translate(51.24,472.93) rotate(-159.54)" dy="0.35em">Rwanda</text>
<text transform="translate(44.43,500.09) rotate(-172.32)" dy="0.35em">Egypt</text>
<text transform="translate(43.88,504.8) rotate(-174.48)" dy="0.35em">Switzerland</text>
<text transform="translate(43.36,512.9) rotate(-178.18)" dy="0.35em">Senegal</text>
<text transform="translate(43.45,523) rotate(-182.78)" dy="0.35em">Morocco</text>
<text transform="translate(43.69,526.77) rotate(-184.5)" dy="0.35em">Ethiopia</text>
<text transform="translate(44.6,534.95) rotate(-188.25)" dy="0.35em">Cameroon</text>
<text transform="translate(46.04,542.99) rotate(-191.97)" dy="0.35em">South Africa</text>
<text transform="translate(47.5,549.12) rotate(-194.84)" dy="0.35em">Equatorial Guinea</text>
<text transform="translate(50.3,558.29) rotate(-199.21)" dy="0.35em">Niger</text>
<text transform="translate(54.25,568.23) rotate(-204.08)" dy="0.35em">Cote d'Ivoire</text>
<text transform="translate(57.37,574.72) rotate(-207.36)" dy="0.35em">Eswatini</text>
<text transform="translate(59.97,579.48) rotate(-209.83)" dy="0.35em">Gabon</text>
<text transform="translate(85.58,610.97) rotate(-228.4)" dy="0.35em">Congo Republic</text>
<text transform="translate(125,634.72) rotate(-249.48)" dy="0.35em">Tanzania</text>
<text transform="translate(143.91,640.15) rotate(-258.45)" dy="0.35em">Gambia</text>
<text transform="translate(167.41,642.69) rotate(-269.23)" dy="0.35em">Malawi</text>
<text transform="translate(193.84,640.24) rotate(-281.34)" dy="0.35em">Uganda</text>
<text transform="translate(229.32,627.35) rotate(-298.6)" dy="0.35em">Nigeria</text>
<text transform="translate(255.49,608.35) rotate(-313.37)" dy="0.35em">Burkina Faso</text>
<text transform="translate(274.45,585.65) rotate(-326.87)" dy="0.35em">Kenya</text>
<text transform="translate(285.45,564.74) rotate(-337.65)" dy="0.35em">Togo</text>
<text transform="translate(292.6,540.86) rotate(-349.02)" dy="0.35em">Ghana</text>
</g>
<g fill="none" stroke-width="0.7" stroke-opacity="0.45">
<path d="M438.03,601.18Q504.7,544.65 493.74,631.37" stroke="#e377c2"/>
<path d="M438.81,601.93Q504.96,544.79 494.8,631.61" stroke="#e377c2"/>
<path d="M439.61,602.68Q505.22,544.93 495.86,631.84" stroke="#e377c2"/>
<path d="M440.4,603.42Q505.48,545.06 496.93,632.05" stroke="#e377c2"/>
<path d="M441.21,604.15Q505.74,545.19 498,632.26" stroke="#e377c2"/>
<path d="M442.02,604.87Q506.01,545.32 499.07,632.46" stroke="#e377c2"/>
<path d="M442.84,605.59Q506.27,545.45 500.14,632.64" stroke="#e377c2"/>
<path d="M443.66,606.3Q506.54,545.57 501.21,632.82" stroke="#e377c2"/>
<path d="M444.5,607Q506.81,545.69 502.28,632.99" stroke="#e377c2"/>
<path d="M445.33,607.69Q507.07,545.81 503.36,633.14" stroke="#e377c2"/>
<path d="M446.18,608.38Q507.34,545.93 504.44,633.29" stroke="#e377c2"/>
<path d="M447.03,609.05Q507.61,546.04 505.52,633.43" stroke="#e377c2"/>
<path d="M447.89,609.72Q507.88,546.15 506.6,633.56" stroke="#e377c2"/>
<path d="M448.75,610.38Q508.16,546.26 507.68,633.67" stroke="#e377c2"/>
<path d="M449.62,611.04Q508.43,546.37 508.76,633.78" stroke="#e377c2"/>
<path d="M450.49,611.68Q508.7,546.47 509.84,633.88" stroke="#e377c2"/>
<path d="M451.37,612.32Q508.98,546.58 510.93,633.96" stroke="#e377c2"/>
<path d="M452.26,612.95Q509.25,546.67 512.01,634.04" stroke="#e377c2"/>
<path d="M453.15,613.57Q509.53,546.77 513.1,634.11" stroke="#e377c2"/>
<path d="M454.05,614.18Q509.81,546.86 514.18,634.17" stroke="#e377c2"/>
<path d="M454.96,614.79Q510.09,546.96 515.27,634.21" stroke="#e377c2"/>
<path d="M455.87,615.38Q510.37,547.04 516.36,634.25" stroke="#e377c2"/>
<path d="M456.78,615.97Q510.65,547.13 517.44,634.28" stroke="#e377c2"/>
<path d="M457.7,616.55Q510.93,547.21 518.53,634.29" stroke="#e377c2"/>
<path d="M458.63,617.12Q511.21,547.29 519.62,634.3" stroke="#e377c2"/>
<path d="M459.56,617.68Q511.49,547.37 520.71,634.3" stroke="#e377c2"/>
<path d="M460.49,618.24Q511.78,547.45 521.79,634.28" stroke="#e377c2"/>
<path d="M461.44,618.78Q512.06,547.52 522.88,634.26" stroke="#e377c2"/>
<path d="M462.38,619.32Q512.34,547.59 523.97,634.23" stroke="#e377c2"/>
<path d="M463.33,619.84Q512.63,547.66 525.05,634.18" stroke="#e377c2"/>
<path d="M464.29,620.36Q512.92,547.72 526.14,634.13" stroke="#e377c2"/>
<path d="M465.25,620.87Q513.2,547.79 527.22,634.07" stroke="#e377c2"/>
<path d="M466.22,621.37Q513.49,547.85 528.31,633.99" stroke="#e377c2"/>
<path d="M467.19,621.86Q513.78,547.9 529.39,633.91" stroke="#e377c2"/>
<path d="M468.16,622.34Q514.07,547.96 530.48,633.81" stroke="#e377c2"/>
<path d="M469.14,622.82Q514.35,548.01 531.56,633.71" stroke="#e377c2"/>
<path d="M470.12,623.28Q514.64,548.06 532.64,633.6" stroke="#e377c2"/>
<path d="M471.11,623.74Q514.93,548.11 533.72,633.47" stroke="#e377c2"/>
<path d="M472.1,624.18Q515.22,548.15 534.8,633.34" stroke="#e377c2"/>
<path d="M473.1,624.62Q515.51,548.19 535.88,633.19" stroke="#e377c2"/>
<path d="M474.1,625.05Q515.8,548.23 536.95,633.04" stroke="#e377c2"/>
<path d="M475.1,625.47Q516.09,548.26 538.03,632.88" stroke="#e377c2"/>
<path d="M476.11,625.87Q516.39,548.3 539.1,632.7" stroke="#e377c2"/>
<path d="M477.12,626.27Q516.68,548.33 540.18,632.52" stroke="#e377c2"/>
<path d="M478.13,626.66Q516.97,548.35 541.25,632.33" stroke="#e377c2"/>
<path d="M479.15,627.05Q517.26,548.38 542.31,632.12" stroke="#e377c2"/>
<path d="M480.18,627.42Q517.55,548.4 543.38,631.91" stroke="#e377c2"/>
<path d="M481.2,627.78Q517.85,548.42 544.44,631.69" stroke="#e377c2"/>
<path d="M482.23,628.13Q518.14,548.44 545.51,631.45" stroke="#e377c2"/>
<path d="M483.26,628.47Q518.43,548.45 546.57,631.21" stroke="#e377c2"/>
<path d="M484.3,628.81Q518.72,548.46 547.62,630.96" stroke="#e377c2"/>
<path d="M485.33,629.13Q519.02,548.47 548.68,630.7" stroke="#e377c2"/>
<path d="M486.38,629.45Q519.31,548.48 549.73,630.42" stroke="#e377c2"/>
<path d="M487.42,629.75Q519.6,548.48 550.78,630.14" stroke="#e377c2"/>
<path d="M488.47,630.05Q519.9,548.48 551.83,629.85" stroke="#e377c2"/>
<path d="M489.52,630.33Q520.19,548.48 552.87,629.55" stroke="#e377c2"/>
<path d="M490.57,630.61Q520.48,548.47 553.92,629.24" stroke="#e377c2"/>
<path d="M491.62,630.87Q520.78,548.47 554.96,628.92" stroke="#e377c2"/>
<path d="M492.68,631.13Q521.07,548.46 555.99,628.59" stroke="#e377c2"/>
<path d="M493.74,631.37Q521.36,548.44 557.02,628.25" stroke="#e377c2"/>
<path d="M619.18,579.48Q549.22,531.06 630.57,556" stroke="#17becf"/>
<path d="M619.66,578.72Q549.33,530.84 630.87,555.15" stroke="#17becf"/>
<path d="M620.13,577.95Q549.44,530.61 631.16,554.29" stroke="#17becf"/>
<path d="M620.6,577.18Q549.54,530.38 631.44,553.44" stroke="#17becf"/>
<path d="M621.06,576.4Q549.65,530.15 631.72,552.58" stroke="#17becf"/>
<path d="M621.52,575.62Q549.75,529.92 631.99,551.72" stroke="#17becf"/>
<path d="M621.96,574.84Q549.85,529.69 632.26,550.86" stroke="#17becf"/>
<path d="M622.41,574.06Q549.94,529.46 632.51,549.99" stroke="#17becf"/>
<path d="M622.84,573.27Q550.04,529.23 632.77,549.13" stroke="#17becf"/>
<path d="M623.27,572.47Q550.14,529 633.01,548.26" stroke="#17becf"/>
<path d="M623.7,571.68Q550.23,528.77 633.25,547.39" stroke="#17becf"/>
<path d="M624.12,570.88Q550.32,528.53 633.48,546.52" stroke="#17becf"/>
<path d="M624.53,570.08Q550.41,528.3 633.7,545.65" stroke="#17becf"/>
<path d="M624.93,569.27Q550.5,528.06 633.92,544.77" stroke="#17becf"/>
<path d="M625.33,568.46Q550.58,527.83 634.13,543.89" stroke="#17becf"/>
<path d="M625.73,567.65Q550.66,527.59 634.34,543.02" stroke="#17becf"/>
<path d="M626.11,566.84Q550.75,527.35 634.54,542.14" stroke="#17becf"/>
<path d="M626.49,566.02Q550.83,527.11 634.73,541.26" stroke="#17becf"/>
<path d="M626.87,565.2Q550.91,526.88 634.91,540.37" stroke="#17becf"/>
<path d="M627.24,564.38Q550.98,526.64 635.09,539.49" stroke="#17becf"/>
<path d="M627.6,563.55Q551.06,526.4 635.26,538.6" stroke="#17becf"/>
<path d="M627.95,562.72Q551.13,526.16 635.42,537.72" stroke="#17becf"/>
<path d="M628.3,561.89Q551.2,525.92 635.58,536.83" stroke="#17becf"/>
<path d="M628.65,561.06Q551.27,525.68 635.73,535.94" stroke="#17becf"/>
<path d="M628.98,560.22Q551.34,525.43 635.87,535.05" stroke="#17becf"/>
<path d="M629.31,559.38Q551.4,525.19 636.01,534.16" stroke="#17becf"/>
<path d="M629.64,558.54Q551.46,524.95 636.14,533.26" stroke="#17becf"/>
<path d="M629.95,557.69Q551.53,524.71 636.26,532.37" stroke="#17becf"/>
<path d="M630.26,556.85Q551.59,524.46 636.38,531.48" stroke="#17becf"/>
<path d="M630.57,556Q551.64,524.22 636.49,530.58" stroke="#17becf"/>
<path d="M584.45,614.92Q540.14,542.5 600.46,602.24" stroke="#bcbd22"/>
<path d="M585.34,614.32Q540.38,542.31 601.24,601.5" stroke="#bcbd22"/>
<path d="M586.23,613.72Q540.61,542.12 602.01,600.75" stroke="#bcbd22"/>
<path d="M587.12,613.1Q540.84,541.93 602.78,599.99" stroke="#bcbd22"/>
<path d="M588,612.48Q541.07,541.74 603.53,599.23" stroke="#bcbd22"/>
<path d="M588.87,611.86Q541.3,541.54 604.28,598.46" stroke="#bcbd22"/>
<path d="M589.74,611.22Q541.52,541.34 605.03,597.68" stroke="#bcbd22"/>
<path d="M590.6,610.57Q541.75,541.14 605.77,596.9" stroke="#bcbd22"/>
<path d="M591.46,609.92Q541.97,540.94 606.5,596.11" stroke="#bcbd22"/>
<path d="M592.31,609.26Q542.19,540.74 607.22,595.31" stroke="#bcbd22"/>
<path d="M593.15,608.59Q542.41,540.53 607.93,594.51" stroke="#bcbd22"/>
<path d="M593.99,607.92Q542.62,540.32 608.64,593.7" stroke="#bcbd22"/>
<path d="M594.82,607.23Q542.84,540.11 609.34,592.88" stroke="#bcbd22"/>
<path d="M595.64,606.54Q543.05,539.9 610.04,592.06" stroke="#bcbd22"/>
<path d="M596.46,605.85Q543.26,539.69 610.72,591.23" stroke="#bcbd22"/>
<path d="M597.27,605.14Q543.47,539.47 611.4,590.39" stroke="#bcbd22"/>
<path d="M598.08,604.43Q543.68,539.25 612.07,589.55" stroke="#bcbd22"/>
<path d="M598.88,603.71Q543.88,539.03 612.73,588.7" stroke="#bcbd22"/>
<path d="M599.67,602.98Q544.08,538.81 613.39,587.85" stroke="#bcbd22"/>
<path d="M600.46,602.24Q544.28,538.59 614.03,586.99" stroke="#bcbd22"/>
<path d="M430.4,440.55Q493.09,497.82 418.38,457.46" stroke="#c7c7c7"/>
<path d="M429.51,441.61Q492.86,498.13 417.69,458.66" stroke="#c7c7c7"/>
<path d="M428.63,442.68Q492.65,498.45 417.01,459.87" stroke="#c7c7c7"/>
<path d="M427.76,443.76Q492.43,498.77 416.35,461.09" stroke="#c7c7c7"/>
<path d="M426.9,444.85Q492.22,499.1 415.7,462.31" stroke="#c7c7c7"/>
<path d="M426.06,445.95Q492.01,499.42 415.06,463.54" stroke="#c7c7c7"/>
<path d="M425.23,447.06Q491.81,499.75 414.44,464.78" stroke="#c7c7c7"/>
<path d="M424.42,448.18Q491.61,500.08 413.84,466.02" stroke="#c7c7c7"/>
<path d="M423.62,449.31Q491.42,500.42 413.25,467.28" stroke="#c7c7c7"/>
<path d="M422.83,450.45Q491.23,500.75 412.67,468.54" stroke="#c7c7c7"/>
<path d="M422.05,451.59Q491.04,501.09 412.11,469.8" stroke="#c7c7c7"/>
<path d="M421.29,452.75Q490.86,501.43 411.56,471.08" stroke="#c7c7c7"/>
<path d="M420.54,453.92Q490.68,501.77 411.03,472.35" stroke="#c7c7c7"/>
<path d="M419.81,455.09Q490.5,502.12 410.51,473.64" stroke="#c7c7c7"/>
<path d="M419.09,456.27Q490.33,502.46 410.01,474.93" stroke="#c7c7c7"/>
<path d="M418.38,457.46Q490.16,502.81 409.53,476.23" stroke="#c7c7c7"/>
<path d="M511.36,399.6Q515.86,484.18 500.08,400.97" stroke="#d62728"/>
<path d="M510.33,399.68Q515.57,484.21 499.07,401.14" stroke="#d62728"/>
<path d="M509.3,399.77Q515.28,484.25 498.05,401.33" stroke="#d62728"/>
<path d="M508.27,399.87Q515,484.29 497.04,401.53" stroke="#d62728"/>
<path d="M507.24,399.97Q514.71,484.33 496.02,401.73" stroke="#d62728"/>
<path d="M506.22,400.09Q514.43,484.38 495.01,401.94" stroke="#d62728"/>
<path d="M505.19,400.21Q514.14,484.43 494,402.17" stroke="#d62728"/>
<path d="M504.17,400.34Q513.86,484.48 493,402.4" stroke="#d62728"/>
<path d="M503.14,400.49Q513.58,484.53 491.99,402.64" stroke="#d62728"/>
<path d="M502.12,400.64Q513.29,484.59 490.99,402.89" stroke="#d62728"/>
<path d="M501.1,400.8Q513.01,484.65 489.99,403.14" stroke="#d62728"/>
<path d="M500.08,400.97Q512.73,484.71 488.99,403.41" stroke="#d62728"/>
<path d="M536.92,400.55Q523,484.1 525.56,399.44" stroke="#2ca02c"/>
<path d="M535.9,400.41Q522.71,484.07 524.52,399.39" stroke="#2ca02c"/>
<path d="M534.87,400.27Q522.43,484.04 523.49,399.36" stroke="#2ca02c"/>
<path d="M533.84,400.14Q522.14,484.02 522.45,399.33" stroke="#2ca02c"/>
<path d="M532.8,400.02Q521.85,484 521.41,399.31" stroke="#2ca02c"/>
<path d="M531.77,399.91Q521.56,483.99 520.37,399.3" stroke="#2ca02c"/>
<path d="M530.74,399.81Q521.27,483.97 519.33,399.3" stroke="#2ca02c"/>
<path d="M529.7,399.72Q520.98,483.96 518.29,399.31" stroke="#2ca02c"/>
<path d="M528.67,399.64Q520.69,483.95 517.26,399.33" stroke="#2ca02c"/>
<path d="M527.63,399.56Q520.4,483.94 516.22,399.35" stroke="#2ca02c"/>
<path d="M526.6,399.5Q520.1,483.94 515.18,399.39" stroke="#2ca02c"/>
<path d="M525.56,399.44Q519.81,483.94 514.14,399.44" stroke="#2ca02c"/>
<path d="M417.84,575.19Q492.09,534.46 423.8,584.56" stroke="#c5b0d5"/>
<path d="M418.39,576.16Q492.25,534.72 424.45,585.46" stroke="#c5b0d5"/>
<path d="M418.96,577.11Q492.42,534.98 425.1,586.36" stroke="#c5b0d5"/>
<path d="M419.53,578.06Q492.6,535.24 425.76,587.25" stroke="#c5b0d5"/>
<path d="M420.12,579.01Q492.77,535.5 426.43,588.14" stroke="#c5b0d5"/>
<path d="M420.71,579.95Q492.95,535.75 427.11,589.01" stroke="#c5b0d5"/>
<path d="M421.31,580.88Q493.13,536 427.8,589.89" stroke="#c5b0d5"/>
<path d="M421.92,581.81Q493.31,536.25 428.49,590.75" stroke="#c5b0d5"/>
<path d="M422.54,582.73Q493.5,536.5 429.2,591.61" stroke="#c5b0d5"/>
<path d="M423.17,583.65Q493.69,536.75 429.91,592.47" stroke="#c5b0d5"/>
<path d="M423.8,584.56Q493.88,537 430.63,593.31" stroke="#c5b0d5"/>
<path d="M465.54,412.58Q503.7,488.13 459.07,416.21" stroke="#c49c94"/>
<path d="M464.61,413.07Q503.44,488.27 458.17,416.76" stroke="#c49c94"/>
<path d="M463.67,413.57Q503.19,488.42 457.27,417.32" stroke="#c49c94"/>
<path d="M462.74,414.08Q502.93,488.57 456.37,417.89" stroke="#c49c94"/>
<path d="M461.82,414.6Q502.68,488.73 455.48,418.47" stroke="#c49c94"/>
<path d="M460.9,415.13Q502.43,488.88 454.6,419.05" stroke="#c49c94"/>
<path d="M459.98,415.67Q502.17,489.04 453.72,419.64" stroke="#c49c94"/>
<path d="M459.07,416.21Q501.92,489.2 452.84,420.24" stroke="#c49c94"/>
<path d="M448.35,423.52Q498.74,491.56 440.79,429.83" stroke="#f7b6d2"/>
<path d="M447.24,424.38Q498.43,491.82 439.75,430.78" stroke="#f7b6d2"/>
<path d="M446.14,425.26Q498.14,492.08 438.73,431.75" stroke="#f7b6d2"/>
<path d="M445.05,426.15Q497.84,492.34 437.72,432.73" stroke="#f7b6d2"/>
<path d="M443.97,427.05Q497.55,492.6 436.71,433.72" stroke="#f7b6d2"/>
<path d="M442.9,427.96Q497.26,492.87 435.72,434.72" stroke="#f7b6d2"/>
<path d="M441.84,428.89Q496.98,493.14 434.75,435.73" stroke="#f7b6d2"/>
<path d="M440.79,429.83Q496.7,493.42 433.78,436.76" stroke="#f7b6d2"/>
<path d="M403.11,530.61Q487.35,522.05 404.71,540.5" stroke="#ffbb78"/>
<path d="M403.27,531.85Q487.41,522.4 404.97,541.72" stroke="#ffbb78"/>
<path d="M403.44,533.09Q487.47,522.74 405.25,542.94" stroke="#ffbb78"/>
<path d="M403.62,534.33Q487.54,523.09 405.53,544.16" stroke="#ffbb78"/>
<path d="M403.81,535.57Q487.61,523.43 405.83,545.38" stroke="#ffbb78"/>
<path d="M404.02,536.81Q487.68,523.77 406.14,546.59" stroke="#ffbb78"/>
<path d="M404.24,538.04Q487.75,524.11 406.46,547.8" stroke="#ffbb78"/>
<path d="M404.47,539.27Q487.83,524.45 406.8,549.01" stroke="#ffbb78"/>
<path d="M404.71,540.5Q487.92,524.8 407.15,550.21" stroke="#ffbb78"/>
<path d="M566.63,624.56Q534.19,546.35 575.75,620.12" stroke="#c7c7c7"/>
<path d="M567.79,624.05Q534.51,546.2 576.86,619.51" stroke="#c7c7c7"/>
<path d="M568.95,623.53Q534.82,546.03 577.97,618.89" stroke="#c7c7c7"/>
<path d="M570.1,622.99Q535.14,545.87 579.06,618.26" stroke="#c7c7c7"/>
<path d="M571.24,622.44Q535.45,545.7 580.15,617.61" stroke="#c7c7c7"/>
<path d="M572.38,621.88Q535.76,545.53 581.24,616.96" stroke="#c7c7c7"/>
<path d="M573.51,621.31Q536.07,545.36 582.32,616.29" stroke="#c7c7c7"/>
<path d="M574.63,620.72Q536.38,545.18 583.38,615.61" stroke="#c7c7c7"/>
<path d="M575.75,620.12Q536.68,545 584.45,614.92" stroke="#c7c7c7"/>
<path d="M507.36,633.64Q529.76,521.6 603.38,434.21" stroke="#e377c2"/>
<path d="M505.4,633.41Q529.53,521.61 603.69,434.53" stroke="#e377c2"/>
<path d="M503.44,633.16Q529.3,521.62 603.99,434.84" stroke="#e377c2"/>
<path d="M501.49,632.86Q529.07,521.62 604.3,435.15" stroke="#e377c2"/>
<path d="M489.9,630.43Q526.38,520.27 596.67,427.94" stroke="#e377c2"/>
<path d="M484.22,628.78Q524.91,519.48 591.86,423.99" stroke="#e377c2"/>
<path d="M482.34,628.17Q524.76,519.49 592.66,424.62" stroke="#e377c2"/>
<path d="M531.01,633.76Q535.76,525.2 622.58,459.86" stroke="#ff9896"/>
<path d="M529.04,633.94Q535.55,525.34 623.04,460.69" stroke="#ff9896"/>
<path d="M527.07,634.07Q535.33,525.48 623.49,461.53" stroke="#ff9896"/>
<path d="M525.1,634.18Q535.12,525.61 623.93,462.37" stroke="#ff9896"/>
<path d="M523.13,634.25Q534.91,525.74 624.37,463.21" stroke="#ff9896"/>
<path d="M521.16,634.29Q534.69,525.87 624.8,464.06" stroke="#ff9896"/>
<path d="M552.31,629.71Q540.53,529.61 635.33,495.38" stroke="#ffbb78"/>
<path d="M550.41,630.24Q540.28,529.81 635.49,496.28" stroke="#ffbb78"/>
<path d="M548.5,630.74Q540.04,530 635.65,497.17" stroke="#ffbb78"/>
<path d="M546.58,631.21Q539.79,530.2 635.8,498.08" stroke="#ffbb78"/>
<path d="M544.66,631.64Q539.54,530.38 635.94,498.98" stroke="#ffbb78"/>
<path d="M542.72,632.04Q539.29,530.57 636.08,499.88" stroke="#ffbb78"/>
<path d="M480.47,627.52Q522.79,518.21 580.46,416.17" stroke="#e377c2"/>
<path d="M478.62,626.85Q522.64,518.19 581.27,416.66" stroke="#e377c2"/>
<path d="M459.1,617.41Q510.28,514.47 512.52,399.53" stroke="#e377c2"/>
<path d="M536.89,633.05Q537.6,527.32 629.89,475.73" stroke="#e377c2"/>
<path d="M534.93,633.32Q537.38,527.5 630.24,476.68" stroke="#e377c2"/>
<path d="M532.97,633.56Q537.15,527.66 630.58,477.64" stroke="#e377c2"/>
<path d="M540.78,632.41Q538.44,528.07 631.93,481.69" stroke="#e377c2"/>
<path d="M538.84,632.75Q538.21,528.26 632.25,482.72" stroke="#e377c2"/>
<path d="M556.09,628.56Q541.29,531.34 637.03,508.88" stroke="#e377c2"/>
<path d="M554.2,629.15Q541.03,531.51 637.07,509.5" stroke="#e377c2"/>
<path d="M519.18,634.3Q533.59,524.42 618.94,453.73" stroke="#e377c2"/>
<path d="M517.21,634.27Q533.41,524.57 619.61,454.8" stroke="#e377c2"/>
<path d="M511.29,633.99Q531.57,523.08 612.41,444.48" stroke="#e377c2"/>
<path d="M509.33,633.83Q531.39,523.18 613.06,445.32" stroke="#e377c2"/>
<path d="M515.24,634.21Q532.63,523.8 616.04,449.39" stroke="#e377c2"/>
<path d="M513.26,634.12Q532.47,523.95 616.82,450.52" stroke="#e377c2"/>
<path d="M473.13,624.63Q516.7,515.81 544.32,401.89" stroke="#e377c2"/>
<path d="M471.32,623.83Q516.54,515.72 545.01,402.04" stroke="#e377c2"/>
<path d="M469.53,623Q516.39,515.62 545.7,402.19" stroke="#e377c2"/>
<path d="M462.51,619.39Q513.34,514.79 530.92,399.83" stroke="#e377c2"/>
<path d="M460.8,618.41Q513.28,514.67 532.26,399.96" stroke="#e377c2"/>
<path d="M454.11,614.22Q508.45,514.13 504.45,400.31" stroke="#e377c2"/>
<path d="M452.48,613.1Q508.4,513.95 505.7,400.15" stroke="#e377c2"/>
<path d="M447.71,609.59Q499.49,516.9 446.8,424.73" stroke="#e377c2"/>
<path d="M446.17,608.36Q499.42,516.62 447.83,423.92" stroke="#e377c2"/>
<path d="M441.65,604.54Q492.63,526.38 403.9,497.5" stroke="#e377c2"/>
<path d="M440.18,603.21Q492.45,526.09 404.03,496.72" stroke="#e377c2"/>
<path d="M449.28,610.79Q501.95,515.57 462.82,414.04" stroke="#e377c2"/>
<path d="M450.87,611.96Q505.77,514.27 488.48,403.55" stroke="#e377c2"/>
<path d="M444.64,607.12Q496.55,519.03 428.86,442.39" stroke="#e377c2"/>
<path d="M443.13,605.84Q496.48,518.68 429.88,441.16" stroke="#e377c2"/>
<path d="M438.74,601.86Q492,528.53 402.31,515.55" stroke="#e377c2"/>
<path d="M635.23,538.78Q550.89,512.97 626.45,467.49" stroke="#ff9896"/>
<path d="M634.73,541.25Q550.88,513.44 626.85,468.35" stroke="#ff9896"/>
<path d="M634.18,543.7Q550.85,513.91 627.24,469.22" stroke="#ff9896"/>
<path d="M633.58,546.14Q550.82,514.37 627.62,470.09" stroke="#ff9896"/>
<path d="M636.91,526.33Q552.53,516.15 636.44,502.6" stroke="#ffbb78"/>
<path d="M636.68,528.83Q552.51,516.62 636.55,503.5" stroke="#ffbb78"/>
<path d="M636.4,531.33Q552.48,517.1 636.64,504.41" stroke="#ffbb78"/>
<path d="M636.06,533.82Q552.45,517.58 636.74,505.32" stroke="#ffbb78"/>
<path d="M635.67,536.31Q552.4,518.05 636.82,506.23" stroke="#ffbb78"/>
<path d="M637.09,523.82Q552.64,516.85 637.11,510.13" stroke="#17becf"/>
<path d="M637.21,521.31Q552.68,517.04 637.27,514.03" stroke="#17becf"/>
<path d="M637.28,518.8Q552.7,517.08 637.3,516.79" stroke="#17becf"/>
<path d="M631.46,553.38Q545.85,509.19 594.24,425.89" stroke="#17becf"/>
<path d="M632.92,548.57Q547.96,510.35 607.84,438.99" stroke="#17becf"/>
<path d="M632.22,550.98Q547.91,510.74 608.13,439.32" stroke="#17becf"/>
<path d="M630.65,555.76Q541.02,506.82 560.49,406.57" stroke="#17becf"/>
<path d="M625.86,567.38Q518.21,523.33 402.37,512.88" stroke="#17becf"/>
<path d="M624.75,569.64Q518.06,523.52 402.4,512" stroke="#17becf"/>
<path d="M621.14,576.26Q547.27,534.83 614.66,586.14" stroke="#17becf"/>
<path d="M619.85,578.42Q547.03,535.21 614.24,586.71" stroke="#17becf"/>
<path d="M628.88,560.47Q518.94,519.67 404.61,493.62" stroke="#17becf"/>
<path d="M629.79,558.13Q519.38,518.06 406.83,484.5" stroke="#17becf"/>
<path d="M623.6,571.87Q518.61,529.34 407.48,551.32" stroke="#17becf"/>
<path d="M622.39,574.08Q518.41,529.55 407.26,550.58" stroke="#17becf"/>
<path d="M610.89,591.02Q543.38,514.8 597.12,428.33" stroke="#bcbd22"/>
<path d="M609.59,592.59Q541.31,513.61 583.69,418.19" stroke="#bcbd22"/>
<path d="M608.25,594.14Q541.24,513.9 584.49,418.71" stroke="#bcbd22"/>
<path d="M606.89,595.67Q541.16,514.18 585.28,419.24" stroke="#bcbd22"/>
<path d="M613.42,587.81Q547.67,519.48 625.22,464.91" stroke="#bcbd22"/>
<path d="M612.17,589.42Q547.55,519.82 625.64,465.77" stroke="#bcbd22"/>
<path d="M602.66,600.11Q530.58,512.03 513.91,399.45" stroke="#bcbd22"/>
<path d="M591.92,609.56Q515.93,538.47 420.03,578.86" stroke="#bcbd22"/>
<path d="M590.3,610.8Q515.58,538.44 419.14,577.4" stroke="#bcbd22"/>
<path d="M588.65,612.01Q515.22,538.41 418.26,575.93" stroke="#bcbd22"/>
<path d="M586.99,613.2Q534.56,545.85 558.06,627.9" stroke="#bcbd22"/>
<path d="M585.3,614.35Q534.23,546.04 557.37,628.13" stroke="#bcbd22"/>
<path d="M599.71,602.94Q523.16,514.39 463.91,413.45" stroke="#bcbd22"/>
<path d="M598.2,604.32Q523.1,514.5 465,412.86" stroke="#bcbd22"/>
<path d="M605.51,597.18Q533.92,511.74 534.93,400.28" stroke="#bcbd22"/>
<path d="M604.1,598.65Q533.91,511.97 536.26,400.46" stroke="#bcbd22"/>
<path d="M595.11,606.99Q514.68,524.41 407.9,480.95" stroke="#bcbd22"/>
<path d="M596.67,605.67Q515.1,523.64 409.33,476.76" stroke="#bcbd22"/>
<path d="M593.53,608.29Q515.5,537.15 415.37,570.65" stroke="#bcbd22"/>
<path d="M601.2,601.54Q524.27,513.74 470.36,410.21" stroke="#bcbd22"/>
<path d="M410.97,472.5Q512.36,496.11 575.49,413.34" stroke="#bcbd22"/>
<path d="M411.58,471.03Q512.56,495.97 576.33,413.79" stroke="#bcbd22"/>
<path d="M412.22,469.56Q512.77,495.83 577.16,414.25" stroke="#bcbd22"/>
<path d="M412.87,468.1Q512.98,495.69 577.99,414.72" stroke="#bcbd22"/>
<path d="M413.54,466.65Q513.19,495.55 578.82,415.2" stroke="#bcbd22"/>
<path d="M419.61,455.41Q489.6,511.21 404.28,538.26" stroke="#c7c7c7"/>
<path d="M420.46,454.05Q489.7,510.89 404.11,537.37" stroke="#c7c7c7"/>
<path d="M421.32,452.71Q489.79,510.58 403.96,536.47" stroke="#c7c7c7"/>
<path d="M422.2,451.37Q489.9,510.27 403.81,535.57" stroke="#c7c7c7"/>
<path d="M423.1,450.05Q490,509.96 403.67,534.67" stroke="#c7c7c7"/>
<path d="M424.02,448.74Q490.11,509.65 403.53,533.77" stroke="#c7c7c7"/>
<path d="M424.95,447.45Q490.23,509.34 403.4,532.87" stroke="#c7c7c7"/>
<path d="M425.9,446.16Q490.34,509.03 403.28,531.97" stroke="#c7c7c7"/>
<path d="M417.19,459.55Q495.69,495.53 450.2,422.13" stroke="#c7c7c7"/>
<path d="M417.98,458.16Q495.91,495.26 450.95,421.58" stroke="#c7c7c7"/>
<path d="M415.67,462.36Q498,494.4 468.21,411.23" stroke="#c7c7c7"/>
<path d="M416.42,460.95Q498.25,494.13 469.28,410.71" stroke="#c7c7c7"/>
<path d="M414.23,465.21Q505.45,493.13 522.87,399.34" stroke="#c7c7c7"/>
<path d="M414.94,463.78Q505.74,492.94 524.22,399.38" stroke="#c7c7c7"/>
<path d="M426.87,444.89Q493.35,516.22 423.8,584.56" stroke="#c7c7c7"/>
<path d="M427.86,443.64Q493.35,515.85 422.83,583.15" stroke="#c7c7c7"/>
<path d="M410.38,473.99Q515.07,498.22 595.47,426.91" stroke="#c7c7c7"/>
<path d="M409.81,475.48Q515.62,498.99 599.94,430.87" stroke="#c7c7c7"/>
<path d="M418.79,456.78Q494.87,495.98 442.75,428.09" stroke="#c7c7c7"/>
<path d="M583.88,615.29Q540.93,519.51 606.68,437.69" stroke="#c7c7c7"/>
<path d="M582.74,616.02Q540.82,519.66 606.97,438.02" stroke="#c7c7c7"/>
<path d="M579.28,618.13Q526.51,514.62 508.21,399.87" stroke="#c7c7c7"/>
<path d="M578.11,618.81Q526.52,514.7 509.47,399.75" stroke="#c7c7c7"/>
<path d="M576.93,619.47Q526.53,514.77 510.73,399.65" stroke="#c7c7c7"/>
<path d="M569.71,623.17Q532.89,546.97 563.38,625.92" stroke="#c7c7c7"/>
<path d="M568.49,623.74Q532.63,547.08 562.78,626.16" stroke="#c7c7c7"/>
<path d="M572.15,621.99Q510.68,531.23 402.32,514.66" stroke="#c7c7c7"/>
<path d="M570.94,622.59Q510.51,531.19 402.34,513.77" stroke="#c7c7c7"/>
<path d="M567.25,624.29Q539.78,541.48 615.07,585.58" stroke="#c7c7c7"/>
<path d="M574.56,620.76Q511.3,528.33 404.31,495.17" stroke="#c7c7c7"/>
<path d="M573.36,621.38Q511.15,528.31 404.46,494.4" stroke="#c7c7c7"/>
<path d="M581.6,616.74Q532.46,514.84 548.44,402.84" stroke="#c7c7c7"/>
<path d="M580.44,617.44Q532.4,514.96 549.13,403.02" stroke="#c7c7c7"/>
<path d="M575.75,620.12Q521.82,515.88 478.27,406.88" stroke="#c7c7c7"/>
<path d="M426.85,588.68Q517.53,514.4 596.52,427.81" stroke="#c5b0d5"/>
<path d="M430.07,592.66Q521.43,519.1 621.17,457.38" stroke="#c5b0d5"/>
<path d="M428.98,591.35Q521.34,519.03 621.64,458.2" stroke="#c5b0d5"/>
<path d="M420.94,580.31Q511.41,541.21 558.74,627.66" stroke="#c5b0d5"/>
<path d="M421.87,581.74Q494.27,537.33 435.37,598.52" stroke="#c5b0d5"/>
<path d="M427.9,590.02Q520.72,518.07 618.26,452.67" stroke="#c5b0d5"/>
<path d="M425.81,587.32Q513.81,511.87 571.03,411.06" stroke="#c5b0d5"/>
<path d="M424.8,585.94Q507.87,510.09 529.58,399.71" stroke="#c5b0d5"/>
<path d="M489.6,403.25Q526.52,488.63 598.01,429.11" stroke="#d62728"/>
<path d="M490.82,402.93Q526.74,488.62 598.34,429.4" stroke="#d62728"/>
<path d="M492.05,402.62Q526.96,488.62 598.66,429.7" stroke="#d62728"/>
<path d="M501.95,400.66Q502.21,507.08 411.98,563.5" stroke="#d62728"/>
<path d="M503.2,400.48Q502.33,506.92 411.59,562.58" stroke="#d62728"/>
<path d="M506.96,400Q524.35,515.62 565.16,625.19" stroke="#d62728"/>
<path d="M500.71,400.86Q500.73,501.85 402.66,525.93" stroke="#d62728"/>
<path d="M498.22,401.3Q500.86,496.49 406.08,487.22" stroke="#d62728"/>
<path d="M499.46,401.07Q501.06,496.36 406.26,486.54" stroke="#d62728"/>
<path d="M495.74,401.79Q509.82,485.63 472.59,409.2" stroke="#d62728"/>
<path d="M496.98,401.54Q510.15,485.53 473.71,408.72" stroke="#d62728"/>
<path d="M517.5,399.32Q526.8,485.62 572.1,411.58" stroke="#2ca02c"/>
<path d="M518.84,399.3Q527.11,485.68 572.96,412.01" stroke="#2ca02c"/>
<path d="M520.19,399.3Q527.41,485.74 573.8,412.45" stroke="#2ca02c"/>
<path d="M521.53,399.31Q512.67,485.65 467.14,411.76" stroke="#2ca02c"/>
<path d="M533.59,400.11Q527.28,515.95 559.42,627.42" stroke="#2ca02c"/>
<path d="M526.9,399.51Q505.76,507.05 412.38,564.42" stroke="#2ca02c"/>
<path d="M528.24,399.6Q506.25,507.71 414.56,569.06" stroke="#2ca02c"/>
<path d="M525.56,399.44Q505.05,505.72 408.68,554.98" stroke="#2ca02c"/>
<path d="M434.23,436.28Q518.91,493.37 598.98,429.99" stroke="#f7b6d2"/>
<path d="M435.14,435.32Q519.08,493.28 599.3,430.28" stroke="#f7b6d2"/>
<path d="M440.79,429.83Q496.5,493.64 432.35,438.32" stroke="#f7b6d2"/>
<path d="M441.77,428.95Q496.71,493.43 432.92,437.69" stroke="#f7b6d2"/>
<path d="M444.76,426.39Q492.89,505.34 402.61,525.37" stroke="#f7b6d2"/>
<path d="M445.77,425.55Q493.02,505.15 402.57,524.82" stroke="#f7b6d2"/>
<path d="M443.75,427.23Q493.45,499.37 407.61,481.86" stroke="#f7b6d2"/>
<path d="M436.98,433.45Q518.07,491.97 590.25,422.76" stroke="#f7b6d2"/>
<path d="M437.92,432.53Q518.31,491.92 591.06,423.37" stroke="#f7b6d2"/>
<path d="M439.82,430.72Q498.76,491.57 449.46,422.68" stroke="#f7b6d2"/>
<path d="M407.02,549.77Q519.97,517.42 633.78,488.24" stroke="#ffbb78"/>
<path d="M406.77,548.9Q519.96,517.42 633.99,489.13" stroke="#ffbb78"/>
<path d="M406.52,548.02Q519.96,517.42 634.21,490.02" stroke="#ffbb78"/>
<path d="M403.17,531.06Q487.05,519.84 402.54,524.27" stroke="#ffbb78"/>
<path d="M405.2,542.72Q513.07,506.87 586.31,419.94" stroke="#ffbb78"/>
<path d="M405,541.83Q513.22,506.87 587.57,420.82" stroke="#ffbb78"/>
<path d="M404.62,540.05Q506.17,503.8 537.65,400.66" stroke="#ffbb78"/>
<path d="M404.45,539.16Q506.35,503.7 539.1,400.9" stroke="#ffbb78"/>
<path d="M404.81,540.94Q512.08,506.02 579.64,415.68" stroke="#ffbb78"/>
<path d="M453.35,419.89Q525.65,496.82 628.01,471" stroke="#c49c94"/>
<path d="M454.38,419.2Q525.84,496.86 628.4,471.94" stroke="#c49c94"/>
<path d="M458.54,416.53Q517.84,487.7 567.03,409.21" stroke="#c49c94"/>
<path d="M459.6,415.89Q518.1,487.66 567.85,409.58" stroke="#c49c94"/>
<path d="M460.67,415.26Q497.05,510.41 416.44,572.69" stroke="#c49c94"/>
<path d="M461.74,414.65Q497.13,510.18 415.9,571.67" stroke="#c49c94"/>
<path d="M402.41,521.77Q514.81,505.68 601.52,432.38" stroke="#aec7e8"/>
<path d="M402.37,520.89Q514.85,505.6 601.84,432.68" stroke="#aec7e8"/>
<path d="M402.31,518.22Q508.1,501.25 553.72,404.3" stroke="#aec7e8"/>
<path d="M402.3,517.33Q508.24,501.17 554.74,404.62" stroke="#aec7e8"/>
<path d="M402.3,516.44Q487.72,521.89 408.19,553.52" stroke="#aec7e8"/>
<path d="M403.31,501.41Q509.53,499.34 562.96,407.51" stroke="#9edae5"/>
<path d="M403.42,500.62Q509.74,499.31 564.29,408.05" stroke="#9edae5"/>
<path d="M404.17,495.95Q509.88,529.09 564.57,625.44" stroke="#9edae5"/>
<path d="M403.53,499.84Q491.44,503.26 433.49,437.07" stroke="#9edae5"/>
<path d="M403.65,499.06Q488.17,520.17 410,558.63" stroke="#9edae5"/>
<path d="M403.77,498.28Q488.14,519.96 409.72,557.9" stroke="#9edae5"/>
<path d="M616.68,583.29Q537.56,510.2 549.81,403.2" stroke="#dbdb8d"/>
<path d="M616.28,583.86Q537.6,510.31 550.49,403.38" stroke="#dbdb8d"/>
<path d="M617.08,582.71Q543.73,513.21 593.45,425.25" stroke="#dbdb8d"/>
<path d="M542.94,401.6Q506.65,502.1 402.75,527.03" stroke="#ff7f0e"/>
<path d="M543.63,401.74Q506.74,502.05 402.7,526.48" stroke="#ff7f0e"/>
<path d="M542.25,401.46Q507,496.61 405.91,487.91" stroke="#ff7f0e"/>
<path d="M402.61,508.27Q497.83,500.12 480.09,406.21" stroke="#1f77b4"/>
<path d="M402.67,507.54Q497.96,499.98 480.93,405.91" stroke="#1f77b4"/>
<path d="M402.73,506.81Q498.09,499.84 481.77,405.62" stroke="#1f77b4"/>
<path d="M402.51,509.73Q508.69,500.24 557.74,405.59" stroke="#1f77b4"/>
<path d="M402.56,509Q508.83,500.18 558.66,405.91" stroke="#1f77b4"/>
<path d="M402.79,506.09Q491.68,526.82 435.95,599.12" stroke="#1f77b4"/>
<path d="M433.19,596.2Q502.47,512.31 482.61,405.34" stroke="#8c564b"/>
<path d="M432.45,595.39Q502.48,512.16 483.46,405.06" stroke="#8c564b"/>
<path d="M433.94,597.01Q520.65,517.79 611.75,443.65" stroke="#8c564b"/>
<path d="M431.71,594.56Q497.93,514.28 451.71,421.04" stroke="#8c564b"/>
<path d="M430.99,593.73Q497.94,514.09 452.46,420.51" stroke="#8c564b"/>
<path d="M434.7,597.82Q521.25,518.55 615.24,448.27" stroke="#8c564b"/>
<path d="M437.73,600.89Q524.16,524.17 633.01,485.33" stroke="#c49c94"/>
<path d="M436.54,599.71Q520.72,517.8 609.63,441.06" stroke="#c49c94"/>
<path d="M561.47,626.66Q531.2,516.7 559.58,406.24" stroke="#f7b6d2"/>
<path d="M560.79,626.92Q530.57,516.56 555.76,404.94" stroke="#f7b6d2"/>
<path d="M560.11,627.17Q530.62,516.64 556.77,405.27" stroke="#f7b6d2"/>
<path d="M563.97,625.68Q510.78,538.32 411.2,561.66" stroke="#7f7f7f"/>
<path d="M407.95,552.79Q489.26,528.85 413.51,566.88" stroke="#2ca02c"/>
<path d="M407.71,552.05Q489.18,528.65 413.17,566.15" stroke="#2ca02c"/>
<path d="M408.43,554.25Q503.12,505.63 512.05,399.56" stroke="#2ca02c"/>
<path d="M410.57,560.1Q499.69,507.13 485.41,404.45" stroke="#98df8a"/>
<path d="M410.28,559.37Q499.8,506.99 486.43,404.14" stroke="#98df8a"/>
<path d="M416.99,573.69Q500.88,508.95 487.45,403.84" stroke="#9467bd"/>
<path d="M417.55,574.7Q518.73,515.15 614.43,447.15" stroke="#9467bd"/>
<path d="M406.45,485.86Q489.15,519.68 414.21,568.34" stroke="#17becf"/>
<path d="M406.64,485.18Q489.12,519.49 413.86,567.61" stroke="#17becf"/>
<path d="M405.09,491.34Q519.3,507.89 630.93,478.63" stroke="#17becf"/>
<path d="M405.25,490.65Q519.37,507.94 631.27,479.65" stroke="#17becf"/>
<path d="M403.08,530.34Q519.91,518.48 637.29,515.29" stroke="#ff7f0e"/>
<path d="M403.02,529.79Q519.89,518.09 637.24,513.01" stroke="#ff7f0e"/>
<path d="M431.23,439.59Q501.27,490.73 475.98,407.78" stroke="#7f7f7f"/>
<path d="M431.79,438.95Q501.5,490.57 477.12,407.32" stroke="#7f7f7f"/>
<path d="M407.33,482.78Q510.9,497.08 568.68,409.95" stroke="#dbdb8d"/>
<path d="M408.59,478.89Q511.22,496.6 569.74,410.44" stroke="#bcbd22"/>
<path d="M408.95,477.82Q510.14,495.97 561.62,406.99" stroke="#bcbd22"/>
<path d="M474.84,408.24Q508.55,485.92 484.39,404.76" stroke="#c5b0d5"/>
<path d="M471.46,409.7Q517.64,486.01 552.7,404" stroke="#c5b0d5"/>
<path d="M448.72,423.24Q525.64,499.1 632.61,483.93" stroke="#e377c2"/>
<path d="M466.07,412.3Q519.96,487.62 574.65,412.89" stroke="#8c564b"/>
<path d="M455.41,418.52Q523.24,492.29 608.73,440" stroke="#c49c94"/>
<path d="M456.45,417.84Q520.56,489.61 588.61,421.56" stroke="#c49c94"/>
<path d="M457.49,417.18Q520.83,489.6 589.43,422.16" stroke="#c49c94"/>
<path d="M414.92,569.78Q520.48,518.33 629.53,474.77" stroke="#ff9896"/>
<path d="M412.79,565.33Q520.47,518.54 631.61,480.67" stroke="#d62728"/>
<path d="M540.17,401.08Q539.04,499.23 636.89,507" stroke="#ff7f0e"/>
<path d="M562.14,626.4Q538.87,522.26 613.7,446.17" stroke="#f7b6d2"/>
<path d="M479.26,406.52Q527.81,492.23 617.56,451.62" stroke="#9467bd"/>
<path d="M619,579.78Q549.98,523.37 636.2,500.78" stroke="#dbdb8d"/>
<path d="M618.62,580.37Q549.95,523.58 636.32,501.69" stroke="#dbdb8d"/>
<path d="M402.86,505.33Q519.32,510.95 633.32,486.47" stroke="#9edae5"/>
<path d="M402.94,504.54Q519.36,510.96 633.55,487.36" stroke="#9edae5"/>
<path d="M409.45,557.16Q520.48,519.2 634.98,493.58" stroke="#2ca02c"/>
<path d="M409.19,556.44Q520.46,519.22 635.16,494.48" stroke="#2ca02c"/>
<path d="M437.13,600.3Q522.55,520.4 622.11,459.03" stroke="#c49c94"/>
<path d="M403.03,503.76Q517.58,506.54 620.68,456.56" stroke="#9edae5"/>
<path d="M618.24,580.96Q548.46,518.76 626.05,466.63" stroke="#dbdb8d"/>
<path d="M566.2,408.85Q540.35,493.14 620.19,455.74" stroke="#17becf"/>
<path d="M410.86,560.83Q519.86,516.95 629.16,473.83" stroke="#98df8a"/>
<path d="M407.06,483.7Q519.27,506.02 628.78,472.88" stroke="#dbdb8d"/>
<path d="M402.49,523.55Q516.06,507.27 610.41,442" stroke="#aec7e8"/>
<path d="M402.45,522.66Q516.15,507.26 611.09,442.82" stroke="#aec7e8"/>
<path d="M565.37,408.5Q542.61,500.82 637.15,510.96" stroke="#17becf"/>
<path d="M408.23,479.95Q520.62,510.97 637.2,511.98" stroke="#bcbd22"/>
<path d="M499.54,632.54Q528.84,521.62 604.6,435.46" stroke="#e377c2"/>
<path d="M497.6,632.18Q528.61,521.61 604.9,435.78" stroke="#e377c2"/>
<path d="M495.67,631.79Q528.38,521.6 605.2,436.1" stroke="#e377c2"/>
<path d="M493.74,631.37Q528.15,521.59 605.5,436.41" stroke="#e377c2"/>
<path d="M491.82,630.92Q527.92,521.57 605.8,436.73" stroke="#e377c2"/>
<path d="M488,629.91Q526.13,520.21 596.82,428.07" stroke="#f7b6d2"/>
<path d="M486.1,629.36Q525.89,520.15 596.97,428.2" stroke="#f7b6d2"/>
<path d="M457.42,616.37Q510.11,514.32 512.98,399.5" stroke="#e377c2"/>
<path d="M455.75,615.31Q509.94,514.17 513.45,399.47" stroke="#e377c2"/>
<path d="M476.78,626.14Q522.5,518.16 582.08,417.16" stroke="#e377c2"/>
<path d="M474.95,625.4Q522.35,518.13 582.89,417.67" stroke="#e377c2"/>
<path d="M600.26,431.17Q515.05,501.06 405.41,489.97" stroke="#e377c2"/>
<path d="M600.58,431.47Q515.12,501 405.57,489.28" stroke="#e377c2"/>
<path d="M606.09,437.05Q538.4,520.74 566.34,624.69" stroke="#e377c2"/>
<path d="M606.39,437.37Q538.36,520.82 565.75,624.94" stroke="#e377c2"/>
<path d="M602.77,433.6Q515.43,509.03 405.61,544.5" stroke="#e377c2"/>
<path d="M603.08,433.91Q515.44,508.95 405.4,543.61" stroke="#e377c2"/>
<path d="M600.9,431.77Q514.82,502.96 403.12,502.97" stroke="#e377c2"/>
<path d="M601.21,432.07Q514.88,502.89 403.21,502.19" stroke="#e377c2"/>
<path d="M602.15,432.98Q514.96,506.65 402.85,528.13" stroke="#e377c2"/>
<path d="M602.46,433.29Q514.99,506.62 402.8,527.58" stroke="#e377c2"/>
<path d="M599.62,430.58Q518.5,494.01 430.67,440.23" stroke="#e377c2"/>
<path d="M607.27,438.34Q545.77,514.88 617.85,581.54" stroke="#e377c2"/>
<path d="M607.56,438.66Q545.76,515.01 617.47,582.13" stroke="#e377c2"/>
<path d="M597.36,428.53Q533.61,488.26 540.86,401.2" stroke="#e377c2"/>
<path d="M597.69,428.82Q533.75,488.32 541.55,401.33" stroke="#e377c2"/>
<path d="M406.29,547.14Q519.95,517.42 634.41,490.91" stroke="#ffbb78"/>
<path d="M406.05,546.26Q519.95,517.42 634.61,491.8" stroke="#ffbb78"/>
<path d="M405.83,545.38Q519.94,517.43 634.8,492.69" stroke="#ffbb78"/>
<path d="M402.96,529.24Q519.84,517.26 636.94,507.62" stroke="#ff7f0e"/>
<path d="M402.9,528.68Q519.84,517.27 636.99,508.25" stroke="#ff7f0e"/>
<path d="M404.77,492.85Q518.83,519.89 627.92,562.79" stroke="#9edae5"/>
<path d="M404.93,492.07Q518.71,520.1 626.92,565.1" stroke="#9edae5"/>
<path d="M402.43,511.19Q514,503.47 595.77,427.16" stroke="#1f77b4"/>
<path d="M402.47,510.46Q514.03,503.38 595.92,427.29" stroke="#1f77b4"/>
<path d="M402.34,520Q514.03,504.73 596.07,427.42" stroke="#aec7e8"/>
<path d="M402.32,519.11Q514.05,504.63 596.22,427.55" stroke="#aec7e8"/>
<path d="M405.74,488.59Q514.45,500.28 595.62,427.04" stroke="#17becf"/>
<path d="M546.39,402.35Q516.24,515.52 467.75,622.14" stroke="#ff7f0e"/>
<path d="M547.07,402.51Q516.08,515.42 465.99,621.26" stroke="#ff7f0e"/>
<path d="M547.76,402.67Q515.94,515.32 464.24,620.34" stroke="#ff7f0e"/>
<path d="M551.17,403.56Q537.64,510.42 615.88,584.44" stroke="#ff7f0e"/>
<path d="M551.85,403.76Q537.68,510.52 615.48,585.01" stroke="#ff7f0e"/>
<path d="M493.28,402.33Q526.62,488.14 595.01,426.53" stroke="#d62728"/>
<path d="M494.51,402.05Q526.81,488.12 595.17,426.65" stroke="#d62728"/>
<path d="M514.81,399.41Q529.59,487.69 594.71,426.28" stroke="#2ca02c"/>
<path d="M516.16,399.36Q529.8,487.7 594.86,426.4" stroke="#2ca02c"/>
<path d="M436.05,434.38Q518.65,492.66 595.32,426.78" stroke="#f7b6d2"/>
<path d="M438.86,431.62Q507.32,488.46 511.59,399.59" stroke="#f7b6d2"/>
<path d="M408.93,555.71Q515,509.77 596.37,427.68" stroke="#2ca02c"/>
</g>
<path d="M642.7,517.57A122.9,122.9 0 0 0 642.68,514.44L635.78,514.57A116.0,116.0 0 0 1 635.8,517.53Z" fill="#1f77b4" fill-opacity="0.88" stroke="none"/>
<path d="M642.68,514.44A122.9,122.9 0 0 0 642.52,510.15L635.63,510.53A116.0,116.0 0 0 1 635.78,514.57Z" fill="#aec7e8" fill-opacity="0.88" stroke="none"/>
<path d="M642.52,510.15A122.9,122.9 0 0 0 642.24,506.22L635.37,506.81A116.0,116.0 0 0 1 635.63,510.53Z" fill="#ff7f0e" fill-opacity="0.88" stroke="none"/>
<path d="M642.24,506.22A122.9,122.9 0 0 0 638.41,484.62L631.75,486.43A116.0,116.0 0 0 1 635.37,506.81Z" fill="#ffbb78" fill-opacity="0.88" stroke="none"/>
<path d="M638.41,484.62A122.9,122.9 0 0 0 637.58,481.69L630.97,483.66A116.0,116.0 0 0 1 631.75,486.43Z" fill="#2ca02c" fill-opacity="0.88" stroke="none"/>
<path d="M637.58,481.69A122.9,122.9 0 0 0 635.85,476.34L629.33,478.61A116.0,116.0 0 0 1 630.97,483.66Z" fill="#98df8a" fill-opacity="0.88" stroke="none"/>
<path d="M635.85,476.34A122.9,122.9 0 0 0 632.77,468.4L626.43,471.12A116.0,116.0 0 0 1 629.33,478.61Z" fill="#d62728" fill-opacity="0.88" stroke="none"/>
<path d="M632.77,468.4A122.9,122.9 0 0 0 624.54,452.51L618.66,456.12A116.0,116.0 0 0 1 626.43,471.12Z" fill="#ff9896" fill-opacity="0.88" stroke="none"/>
<path d="M624.54,452.51A122.9,122.9 0 0 0 621.69,448.08L615.97,451.93A116.0,116.0 0 0 1 618.66,456.12Z" fill="#9467bd" fill-opacity="0.88" stroke="none"/>
<path d="M621.69,448.08A122.9,122.9 0 0 0 618.35,443.37L612.82,447.49A116.0,116.0 0 0 1 615.97,451.93Z" fill="#c5b0d5" fill-opacity="0.88" stroke="none"/>
<path d="M618.35,443.37A122.9,122.9 0 0 0 614.22,438.13L608.92,442.55A116.0,116.0 0 0 1 612.82,447.49Z" fill="#8c564b" fill-opacity="0.88" stroke="none"/>
<path d="M614.22,438.13A122.9,122.9 0 0 0 612.34,435.93L607.15,440.47A116.0,116.0 0 0 1 608.92,442.55Z" fill="#c49c94" fill-opacity="0.88" stroke="none"/>
<path d="M612.34,435.93A122.9,122.9 0 0 0 600.75,424.33L596.21,429.52A116.0,116.0 0 0 1 607.15,440.47Z" fill="#e377c2" fill-opacity="0.88" stroke="none"/>
<path d="M600.75,424.33A122.9,122.9 0 0 0 598.07,422.05L593.68,427.37A116.0,116.0 0 0 1 596.21,429.52Z" fill="#f7b6d2" fill-opacity="0.88" stroke="none"/>
<path d="M598.07,422.05A122.9,122.9 0 0 0 591.34,416.87L587.33,422.48A116.0,116.0 0 0 1 593.68,427.37Z" fill="#7f7f7f" fill-opacity="0.88" stroke="none"/>
<path d="M591.34,416.87A122.9,122.9 0 0 0 588.7,415.03L584.83,420.75A116.0,116.0 0 0 1 587.33,422.48Z" fill="#c7c7c7" fill-opacity="0.88" stroke="none"/>
<path d="M588.7,415.03A122.9,122.9 0 0 0 574.06,406.53L571.01,412.72A116.0,116.0 0 0 1 584.83,420.75Z" fill="#bcbd22" fill-opacity="0.88" stroke="none"/>
<path d="M574.06,406.53A122.9,122.9 0 0 0 571.35,405.23L568.46,411.5A116.0,116.0 0 0 1 571.01,412.72Z" fill="#dbdb8d" fill-opacity="0.88" stroke="none"/>
<path d="M571.35,405.23A122.9,122.9 0 0 0 567.03,403.34L564.38,409.71A116.0,116.0 0 0 1 568.46,411.5Z" fill="#17becf" fill-opacity="0.88" stroke="none"/>
<path d="M567.03,403.34A122.9,122.9 0 0 0 562.84,401.68L560.42,408.15A116.0,116.0 0 0 1 564.38,409.71Z" fill="#9edae5" fill-opacity="0.88" stroke="none"/>
<path d="M562.84,401.68A122.9,122.9 0 0 0 559,400.32L556.8,406.86A116.0,116.0 0 0 1 560.42,408.15Z" fill="#1f77b4" fill-opacity="0.88" stroke="none"/>
<path d="M559,400.32A122.9,122.9 0 0 0 553.68,398.66L551.77,405.29A116.0,116.0 0 0 1 556.8,406.86Z" fill="#aec7e8" fill-opacity="0.88" stroke="none"/>
<path d="M553.68,398.66A122.9,122.9 0 0 0 540.74,395.7L539.56,402.5A116.0,116.0 0 0 1 551.77,405.29Z" fill="#ff7f0e" fill-opacity="0.88" stroke="none"/>
<path d="M540.74,395.7A122.9,122.9 0 0 0 537.71,395.21L536.71,402.04A116.0,116.0 0 0 1 539.56,402.5Z" fill="#ffbb78" fill-opacity="0.88" stroke="none"/>
<path d="M537.71,395.21A122.9,122.9 0 0 0 513.88,394.04L514.21,400.93A116.0,116.0 0 0 1 536.71,402.04Z" fill="#2ca02c" fill-opacity="0.88" stroke="none"/>
<path d="M513.88,394.04A122.9,122.9 0 0 0 510.97,394.22L511.47,401.1A116.0,116.0 0 0 1 514.21,400.93Z" fill="#98df8a" fill-opacity="0.88" stroke="none"/>
<path d="M510.97,394.22A122.9,122.9 0 0 0 487.58,398.2L489.39,404.86A116.0,116.0 0 0 1 511.47,401.1Z" fill="#d62728" fill-opacity="0.88" stroke="none"/>
<path d="M487.58,398.2A122.9,122.9 0 0 0 482.23,399.78L484.34,406.35A116.0,116.0 0 0 1 489.39,404.86Z" fill="#ff9896" fill-opacity="0.88" stroke="none"/>
<path d="M482.23,399.78A122.9,122.9 0 0 0 476.96,401.61L479.37,408.08A116.0,116.0 0 0 1 484.34,406.35Z" fill="#9467bd" fill-opacity="0.88" stroke="none"/>
<path d="M476.96,401.61A122.9,122.9 0 0 0 468.66,405.05L471.53,411.32A116.0,116.0 0 0 1 479.37,408.08Z" fill="#c5b0d5" fill-opacity="0.88" stroke="none"/>
<path d="M468.66,405.05A122.9,122.9 0 0 0 463.05,407.79L466.24,413.91A116.0,116.0 0 0 1 471.53,411.32Z" fill="#8c564b" fill-opacity="0.88" stroke="none"/>
<path d="M463.05,407.79A122.9,122.9 0 0 0 449.77,415.81L453.7,421.48A116.0,116.0 0 0 1 466.24,413.91Z" fill="#c49c94" fill-opacity="0.88" stroke="none"/>
<path d="M449.77,415.81A122.9,122.9 0 0 0 445.07,419.23L449.26,424.71A116.0,116.0 0 0 1 453.7,421.48Z" fill="#e377c2" fill-opacity="0.88" stroke="none"/>
<path d="M445.07,419.23A122.9,122.9 0 0 0 429.83,433.08L434.88,437.78A116.0,116.0 0 0 1 449.26,424.71Z" fill="#f7b6d2" fill-opacity="0.88" stroke="none"/>
<path d="M429.83,433.08A122.9,122.9 0 0 0 426.29,437.05L431.54,441.53A116.0,116.0 0 0 1 434.88,437.78Z" fill="#7f7f7f" fill-opacity="0.88" stroke="none"/>
<path d="M426.29,437.05A122.9,122.9 0 0 0 404.46,474.36L410.93,476.75A116.0,116.0 0 0 1 431.54,441.53Z" fill="#c7c7c7" fill-opacity="0.88" stroke="none"/>
<path d="M404.46,474.36A122.9,122.9 0 0 0 402.92,478.82L409.48,480.95A116.0,116.0 0 0 1 410.93,476.75Z" fill="#bcbd22" fill-opacity="0.88" stroke="none"/>
<path d="M402.92,478.82A122.9,122.9 0 0 0 401.74,482.66L408.37,484.57A116.0,116.0 0 0 1 409.48,480.95Z" fill="#dbdb8d" fill-opacity="0.88" stroke="none"/>
<path d="M401.74,482.66A122.9,122.9 0 0 0 399.74,490.53L406.48,492.01A116.0,116.0 0 0 1 408.37,484.57Z" fill="#17becf" fill-opacity="0.88" stroke="none"/>
<path d="M399.74,490.53A122.9,122.9 0 0 0 397.45,505.21L404.32,505.86A116.0,116.0 0 0 1 406.48,492.01Z" fill="#9edae5" fill-opacity="0.88" stroke="none"/>
<path d="M397.45,505.21A122.9,122.9 0 0 0 397.02,511.31L403.92,511.62A116.0,116.0 0 0 1 404.32,505.86Z" fill="#1f77b4" fill-opacity="0.88" stroke="none"/>
<path d="M397.02,511.31A122.9,122.9 0 0 0 397.13,524.32L404.02,523.9A116.0,116.0 0 0 1 403.92,511.62Z" fill="#aec7e8" fill-opacity="0.88" stroke="none"/>
<path d="M397.13,524.32A122.9,122.9 0 0 0 397.75,531.25L404.6,530.43A116.0,116.0 0 0 1 404.02,523.9Z" fill="#ff7f0e" fill-opacity="0.88" stroke="none"/>
<path d="M397.75,531.25A122.9,122.9 0 0 0 401.97,551.75L408.59,549.78A116.0,116.0 0 0 1 404.6,530.43Z" fill="#ffbb78" fill-opacity="0.88" stroke="none"/>
<path d="M401.97,551.75A122.9,122.9 0 0 0 404.52,559.4L410.99,557.01A116.0,116.0 0 0 1 408.59,549.78Z" fill="#2ca02c" fill-opacity="0.88" stroke="none"/>
<path d="M404.52,559.4A122.9,122.9 0 0 0 406.01,563.24L412.4,560.63A116.0,116.0 0 0 1 410.99,557.01Z" fill="#98df8a" fill-opacity="0.88" stroke="none"/>
<path d="M406.01,563.24A122.9,122.9 0 0 0 408.09,568.04L414.36,565.16A116.0,116.0 0 0 1 412.4,560.63Z" fill="#d62728" fill-opacity="0.88" stroke="none"/>
<path d="M408.09,568.04A122.9,122.9 0 0 0 410.3,572.6L416.44,569.46A116.0,116.0 0 0 1 414.36,565.16Z" fill="#ff9896" fill-opacity="0.88" stroke="none"/>
<path d="M410.3,572.6A122.9,122.9 0 0 0 413.15,577.88L419.14,574.45A116.0,116.0 0 0 1 416.44,569.46Z" fill="#9467bd" fill-opacity="0.88" stroke="none"/>
<path d="M413.15,577.88A122.9,122.9 0 0 0 426.53,596.83L431.76,592.34A116.0,116.0 0 0 1 419.14,574.45Z" fill="#c5b0d5" fill-opacity="0.88" stroke="none"/>
<path d="M426.53,596.83A122.9,122.9 0 0 0 431.18,601.96L436.16,597.18A116.0,116.0 0 0 1 431.76,592.34Z" fill="#8c564b" fill-opacity="0.88" stroke="none"/>
<path d="M431.18,601.96A122.9,122.9 0 0 0 434.27,605.06L439.07,600.1A116.0,116.0 0 0 1 436.16,597.18Z" fill="#c49c94" fill-opacity="0.88" stroke="none"/>
<path d="M434.27,605.06A122.9,122.9 0 0 0 558.74,633.37L556.55,626.82A116.0,116.0 0 0 1 439.07,600.1Z" fill="#e377c2" fill-opacity="0.88" stroke="none"/>
<path d="M558.74,633.37A122.9,122.9 0 0 0 564.44,631.3L561.94,624.88A116.0,116.0 0 0 1 556.55,626.82Z" fill="#f7b6d2" fill-opacity="0.88" stroke="none"/>
<path d="M564.44,631.3A122.9,122.9 0 0 0 568.79,629.52L566.04,623.19A116.0,116.0 0 0 1 561.94,624.88Z" fill="#7f7f7f" fill-opacity="0.88" stroke="none"/>
<path d="M568.79,629.52A122.9,122.9 0 0 0 587.42,619.43L583.62,613.66A116.0,116.0 0 0 1 566.04,623.19Z" fill="#c7c7c7" fill-opacity="0.88" stroke="none"/>
<path d="M587.42,619.43A122.9,122.9 0 0 0 618.36,590.21L612.83,586.09A116.0,116.0 0 0 1 583.62,613.66Z" fill="#bcbd22" fill-opacity="0.88" stroke="none"/>
<path d="M618.36,590.21A122.9,122.9 0 0 0 623.75,582.36L617.92,578.68A116.0,116.0 0 0 1 612.83,586.09Z" fill="#dbdb8d" fill-opacity="0.88" stroke="none"/>
<path d="M623.75,582.36A122.9,122.9 0 0 0 642.7,517.57L635.8,517.53A116.0,116.0 0 0 1 617.92,578.68Z" fill="#17becf" fill-opacity="0.88" stroke="none"/>
<g stroke="#111" stroke-width="0.9">
<circle cx="639.25" cy="516.59" r="2.05" fill="#1f77b4"/>
<circle cx="639.17" cy="512.4" r="2.05" fill="#aec7e8"/>
<circle cx="638.95" cy="508.28" r="2.05" fill="#ff7f0e"/>
<circle cx="637.46" cy="496.22" r="2.05" fill="#ffbb78"/>
<circle cx="634.74" cy="484.3" r="2.05" fill="#2ca02c"/>
<circle cx="633.38" cy="479.81" r="2.05" fill="#98df8a"/>
<circle cx="631.05" cy="473.29" r="2.05" fill="#d62728"/>
<circle cx="625.62" cy="461.39" r="2.05" fill="#ff9896"/>
<circle cx="620.1" cy="451.94" r="2.05" fill="#9467bd"/>
<circle cx="617.48" cy="448.05" r="2.05" fill="#c5b0d5"/>
<circle cx="612.87" cy="441.92" r="2.05" fill="#8c564b"/>
<circle cx="610.41" cy="438.97" r="2.05" fill="#c49c94"/>
<circle cx="604.22" cy="432.29" r="2.05" fill="#e377c2"/>
<circle cx="597.31" cy="425.92" r="2.05" fill="#f7b6d2"/>
<circle cx="592.45" cy="421.98" r="2.05" fill="#7f7f7f"/>
<circle cx="588.02" cy="418.75" r="2.05" fill="#c7c7c7"/>
<circle cx="579.98" cy="413.61" r="2.05" fill="#bcbd22"/>
<circle cx="572.09" cy="409.4" r="2.05" fill="#dbdb8d"/>
<circle cx="567.76" cy="407.4" r="2.05" fill="#17becf"/>
<circle cx="563.46" cy="405.62" r="2.05" fill="#9edae5"/>
<circle cx="559.73" cy="404.22" r="2.05" fill="#1f77b4"/>
<circle cx="555.86" cy="402.92" r="2.05" fill="#aec7e8"/>
<circle cx="547" cy="400.49" r="2.05" fill="#ff7f0e"/>
<circle cx="538.38" cy="398.8" r="2.05" fill="#ffbb78"/>
<circle cx="525.51" cy="397.49" r="2.05" fill="#2ca02c"/>
<circle cx="512.11" cy="397.6" r="2.05" fill="#98df8a"/>
<circle cx="499.26" cy="399.13" r="2.05" fill="#d62728"/>
<circle cx="485.39" cy="402.41" r="2.05" fill="#ff9896"/>
<circle cx="480.71" cy="403.93" r="2.05" fill="#9467bd"/>
<circle cx="472.55" cy="407.09" r="2.05" fill="#c5b0d5"/>
<circle cx="467.31" cy="409.5" r="2.05" fill="#8c564b"/>
<circle cx="458.1" cy="414.52" r="2.05" fill="#c49c94"/>
<circle cx="449.39" cy="420.31" r="2.05" fill="#e377c2"/>
<circle cx="439.53" cy="428.34" r="2.05" fill="#f7b6d2"/>
<circle cx="430.68" cy="437.26" r="2.05" fill="#7f7f7f"/>
<circle cx="417.07" cy="455.85" r="2.05" fill="#c7c7c7"/>
<circle cx="406.83" cy="477.99" r="2.05" fill="#bcbd22"/>
<circle cx="405.76" cy="481.26" r="2.05" fill="#dbdb8d"/>
<circle cx="404.27" cy="486.45" r="2.05" fill="#17becf"/>
<circle cx="401.98" cy="497.11" r="2.05" fill="#9edae5"/>
<circle cx="400.64" cy="508.43" r="2.05" fill="#1f77b4"/>
<circle cx="400.35" cy="517.4" r="2.05" fill="#aec7e8"/>
<circle cx="400.81" cy="527.25" r="2.05" fill="#ff7f0e"/>
<circle cx="402.8" cy="540.86" r="2.05" fill="#ffbb78"/>
<circle cx="406.9" cy="555.81" r="2.05" fill="#2ca02c"/>
<circle cx="408.44" cy="560.02" r="2.05" fill="#98df8a"/>
<circle cx="409.8" cy="563.36" r="2.05" fill="#d62728"/>
<circle cx="412.38" cy="569.05" r="2.05" fill="#ff9896"/>
<circle cx="415.04" cy="574.2" r="2.05" fill="#9467bd"/>
<circle cx="421.89" cy="585.23" r="2.05" fill="#c5b0d5"/>
<circle cx="431.92" cy="597.7" r="2.05" fill="#8c564b"/>
<circle cx="435.44" cy="601.37" r="2.05" fill="#c49c94"/>
<circle cx="492.26" cy="633.03" r="2.05" fill="#e377c2"/>
<circle cx="560.32" cy="629.17" r="2.05" fill="#f7b6d2"/>
<circle cx="565.74" cy="627.06" r="2.05" fill="#7f7f7f"/>
<circle cx="576.91" cy="621.71" r="2.05" fill="#c7c7c7"/>
<circle cx="602.34" cy="603.14" r="2.05" fill="#bcbd22"/>
<circle cx="618.67" cy="583.84" r="2.05" fill="#dbdb8d"/>
<circle cx="634.66" cy="549.58" r="2.05" fill="#17becf"/>
</g>
<g font-size="6.7" fill="#000" stroke="#000" stroke-width="0.1">
<text transform="translate(645.6,516.58) rotate(-0.1)" dy="0.35em">Peru</text>
<text transform="translate(645.51,512.17) rotate(-2.11)" dy="0.35em">New Zealand</text>
<text transform="translate(645.28,507.83) rotate(-4.09)" dy="0.35em">Japan</text>
<text transform="translate(643.72,495.13) rotate(-9.92)" dy="0.35em">United States</text>
<text transform="translate(640.85,482.57) rotate(-15.79)" dy="0.35em">Brazil</text>
<text transform="translate(639.42,477.84) rotate(-18.04)" dy="0.35em">Malaysia</text>
<text transform="translate(636.96,470.98) rotate(-21.36)" dy="0.35em">Italy</text>
<text transform="translate(631.24,458.44) rotate(-27.64)" dy="0.35em">United Kingdom</text>
<text transform="translate(625.44,448.49) rotate(-32.89)" dy="0.35em">Luxembourg</text>
<text transform="translate(622.67,444.39) rotate(-35.14)" dy="0.35em">Thailand</text>
<text transform="translate(617.81,437.94) rotate(-38.82)" dy="0.35em">Laos</text>
<text transform="translate(615.23,434.83) rotate(-40.66)" dy="0.35em">Australia</text>
<text transform="translate(608.71,427.8) rotate(-45.03)" dy="0.35em">France</text>
<text transform="translate(601.43,421.08) rotate(-49.54)" dy="0.35em">India</text>
<text transform="translate(596.31,416.94) rotate(-52.54)" dy="0.35em">Germany</text>
<text transform="translate(591.65,413.54) rotate(-55.17)" dy="0.35em">Argentina</text>
<text transform="translate(583.17,408.13) rotate(-59.75)" dy="0.35em">Belgium</text>
<text transform="translate(574.87,403.69) rotate(-64.04)" dy="0.35em">Netherlands</text>
<text transform="translate(570.3,401.58) rotate(-66.33)" dy="0.35em">Yemen</text>
<text transform="translate(565.78,399.71) rotate(-68.56)" dy="0.35em">Sweden</text>
<text transform="translate(561.85,398.24) rotate(-70.47)" dy="0.35em">Canada</text>
<text transform="translate(557.78,396.87) rotate(-72.43)" dy="0.35em">Denmark</text>
<text transform="translate(548.44,394.3) rotate(-76.84)" dy="0.35em">Benin</text>
<text transform="translate(539.37,392.53) rotate(-81.05)" dy="0.35em">Bulgaria</text>
<text transform="translate(525.81,391.14) rotate(-87.26)" dy="0.35em">Rwanda</text>
<text transform="translate(511.7,391.26) rotate(-93.69)" dy="0.35em">Switzerland</text>
<text transform="translate(498.17,392.87) rotate(-99.9)" dy="0.35em">Senegal</text>
<text transform="translate(483.57,396.33) rotate(-106.74)" dy="0.35em">Egypt</text>
<text transform="translate(478.64,397.93) rotate(-109.1)" dy="0.35em">South Africa</text>
<text transform="translate(470.04,401.26) rotate(-113.3)" dy="0.35em">Morocco</text>
<text transform="translate(464.51,403.8) rotate(-116.07)" dy="0.35em">Burundi</text>
<text transform="translate(454.82,409.08) rotate(-121.1)" dy="0.35em">Ethiopia</text>
<text transform="translate(445.64,415.18) rotate(-126.12)" dy="0.35em">Angola</text>
<text transform="translate(435.27,423.64) rotate(-132.22)" dy="0.35em">Cameroon</text>
<text transform="translate(425.95,433.03) rotate(-138.25)" dy="0.35em">Chad</text>
<text transform="translate(411.61,452.61) rotate(-149.32)" dy="0.35em">DR Congo</text>
<text transform="translate(400.83,475.93) rotate(-161.04)" dy="0.35em">Comoros</text>
<text transform="translate(399.7,479.37) rotate(-162.69)" dy="0.35em">Equatorial Guinea</text>
<text transform="translate(398.13,484.83) rotate(-165.28)" dy="0.35em">Guinea</text>
<text transform="translate(395.72,496.06) rotate(-170.51)" dy="0.35em">Niger</text>
<text transform="translate(394.31,507.98) rotate(-175.98)" dy="0.35em">Eswatini</text>
<text transform="translate(394,517.44) rotate(-180.29)" dy="0.35em">Cote d'Ivoire</text>
<text transform="translate(394.48,527.81) rotate(-185.02)" dy="0.35em">Gabon</text>
<text transform="translate(396.58,542.14) rotate(-191.62)" dy="0.35em">Congo Republic</text>
<text transform="translate(400.9,557.88) rotate(-199.06)" dy="0.35em">Liberia</text>
<text transform="translate(402.52,562.31) rotate(-201.21)" dy="0.35em">Libya</text>
<text transform="translate(403.95,565.83) rotate(-202.94)" dy="0.35em">Mauritania</text>
<text transform="translate(406.67,571.83) rotate(-205.94)" dy="0.35em">Sierra Leone</text>
<text transform="translate(409.48,577.25) rotate(-208.72)" dy="0.35em">Sudan</text>
<text transform="translate(416.69,588.87) rotate(-214.95)" dy="0.35em">Tanzania</text>
<text transform="translate(427.24,602) rotate(-222.63)" dy="0.35em">Namibia</text>
<text transform="translate(430.95,605.86) rotate(-225.07)" dy="0.35em">Malawi</text>
<text transform="translate(490.8,639.21) rotate(-256.67)" dy="0.35em">Nigeria</text>
<text transform="translate(562.48,635.14) rotate(-289.83)" dy="0.35em">Uganda</text>
<text transform="translate(568.18,632.92) rotate(-292.62)" dy="0.35em">Mali</text>
<text transform="translate(579.94,627.29) rotate(-298.56)" dy="0.35em">Burkina Faso</text>
<text transform="translate(606.73,607.73) rotate(-313.71)" dy="0.35em">Kenya</text>
<text transform="translate(623.92,587.4) rotate(-325.86)" dy="0.35em">Togo</text>
<text transform="translate(640.77,551.33) rotate(-344.07)" dy="0.35em">Ghana</text>
</g>
</svg></body></html>
